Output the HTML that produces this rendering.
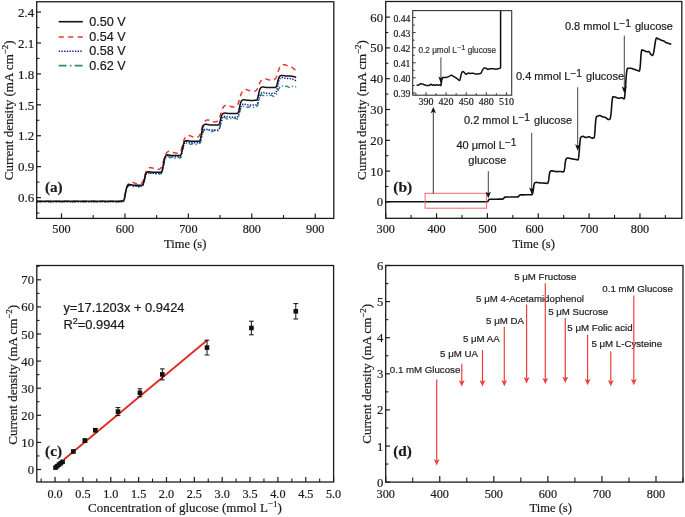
<!DOCTYPE html>
<html><head><meta charset="utf-8"><style>
html,body{margin:0;padding:0;background:#fff;}
body{width:685px;height:517px;overflow:hidden;}
svg{display:block;filter:blur(0.3px);}
</style></head><body>
<svg width="685" height="517" viewBox="0 0 685 517">
<rect x="0" y="0" width="685" height="517" fill="#ffffff"/>
<polyline points="36.76,201.8 37.08,201.8 37.4,201.8 37.71,201.8 38.03,201.8 38.35,201.8 38.67,201.8 38.98,201.8 39.3,201.8 39.62,201.8 39.93,201.8 40.25,201.8 40.57,201.8 40.89,201.8 41.2,201.8 41.52,201.8 41.84,201.8 42.15,201.8 42.47,201.8 42.79,201.8 43.11,201.8 43.42,201.8 43.74,201.8 44.06,201.8 44.37,201.8 44.69,201.8 45.01,201.8 45.33,201.8 45.64,201.8 45.96,201.8 46.28,201.8 46.59,201.8 46.91,201.8 47.23,201.8 47.55,201.8 47.86,201.8 48.18,201.8 48.5,201.8 48.81,201.8 49.13,201.8 49.45,201.8 49.77,201.8 50.08,201.8 50.4,201.8 50.72,201.8 51.03,201.8 51.35,201.8 51.67,201.8 51.99,201.8 52.3,201.8 52.62,201.8 52.94,201.8 53.25,201.8 53.57,201.8 53.89,201.8 54.21,201.8 54.52,201.8 54.84,201.8 55.16,201.8 55.47,201.8 55.79,201.8 56.11,201.8 56.43,201.8 56.74,201.8 57.06,201.8 57.38,201.8 57.69,201.8 58.01,201.8 58.33,201.8 58.65,201.8 58.96,201.8 59.28,201.8 59.6,201.8 59.91,201.8 60.23,201.8 60.55,201.8 60.87,201.8 61.18,201.8 61.5,201.8 61.82,201.8 62.13,201.8 62.45,201.8 62.77,201.8 63.09,201.8 63.4,201.8 63.72,201.8 64.04,201.8 64.35,201.8 64.67,201.8 64.99,201.8 65.31,201.8 65.62,201.8 65.94,201.8 66.26,201.8 66.57,201.8 66.89,201.8 67.21,201.8 67.53,201.8 67.84,201.8 68.16,201.8 68.48,201.8 68.79,201.8 69.11,201.8 69.43,201.8 69.75,201.8 70.06,201.8 70.38,201.8 70.7,201.8 71.01,201.8 71.33,201.8 71.65,201.8 71.97,201.8 72.28,201.8 72.6,201.8 72.92,201.8 73.23,201.8 73.55,201.8 73.87,201.8 74.19,201.8 74.5,201.8 74.82,201.8 75.14,201.8 75.45,201.8 75.77,201.8 76.09,201.8 76.41,201.8 76.72,201.8 77.04,201.8 77.36,201.8 77.67,201.8 77.99,201.8 78.31,201.8 78.63,201.8 78.94,201.8 79.26,201.8 79.58,201.8 79.89,201.8 80.21,201.8 80.53,201.8 80.85,201.8 81.16,201.8 81.48,201.8 81.8,201.8 82.11,201.8 82.43,201.8 82.75,201.8 83.07,201.8 83.38,201.8 83.7,201.8 84.02,201.8 84.33,201.8 84.65,201.8 84.97,201.8 85.29,201.8 85.6,201.8 85.92,201.8 86.24,201.8 86.55,201.8 86.87,201.8 87.19,201.8 87.51,201.8 87.82,201.8 88.14,201.8 88.46,201.8 88.77,201.8 89.09,201.8 89.41,201.8 89.73,201.8 90.04,201.8 90.36,201.8 90.68,201.8 90.99,201.8 91.31,201.8 91.63,201.8 91.95,201.8 92.26,201.8 92.58,201.8 92.9,201.8 93.22,201.8 93.53,201.8 93.85,201.8 94.17,201.8 94.48,201.8 94.8,201.8 95.12,201.8 95.44,201.8 95.75,201.8 96.07,201.8 96.39,201.8 96.7,201.8 97.02,201.8 97.34,201.8 97.66,201.8 97.97,201.8 98.29,201.8 98.61,201.8 98.92,201.8 99.24,201.8 99.56,201.8 99.88,201.8 100.19,201.8 100.51,201.8 100.83,201.8 101.14,201.8 101.46,201.8 101.78,201.8 102.1,201.8 102.41,201.8 102.73,201.8 103.05,201.8 103.36,201.8 103.68,201.8 104,201.8 104.32,201.8 104.63,201.8 104.95,201.8 105.27,201.8 105.58,201.8 105.9,201.8 106.22,201.8 106.54,201.8 106.85,201.8 107.17,201.8 107.49,201.8 107.8,201.8 108.12,201.8 108.44,201.8 108.76,201.8 109.07,201.8 109.39,201.8 109.71,201.8 110.02,201.8 110.34,201.8 110.66,201.8 110.98,201.8 111.29,201.8 111.61,201.8 111.93,201.8 112.24,201.8 112.56,201.8 112.88,201.8 113.2,201.8 113.51,201.8 113.83,201.8 114.15,201.8 114.46,201.8 114.78,201.8 115.1,201.8 115.42,201.8 115.73,201.8 116.05,201.8 116.37,201.8 116.68,201.8 117,201.8 117.32,201.8 117.64,201.8 117.95,201.8 118.27,201.8 118.59,201.8 118.9,201.79 119.22,201.79 119.54,201.79 119.86,201.78 120.17,201.77 120.49,201.76 120.81,201.75 121.12,201.73 121.44,201.7 121.76,201.68 122.08,201.67 122.39,201.66 122.71,201.65 123.03,201.59 123.34,201.42 123.66,201.05 123.98,200.39 124.3,199.43 124.61,198.16 124.93,196.65 125.25,194.67 125.56,192.83 125.88,191.16 126.2,189.73 126.52,188.6 126.83,187.76 127.15,187.19 127.47,186.81 127.78,186.56 128.1,186.38 128.42,186.23 128.74,186.07 129.05,185.89 129.37,185.67 129.69,185.45 130,185.24 130.32,185.07 130.64,184.96 130.96,184.93 131.27,185 131.59,185.16 131.91,185.39 132.22,185.69 132.54,186 132.86,186.31 133.18,186.57 133.49,186.75 133.81,186.85 134.13,186.84 134.44,186.75 134.76,186.58 135.08,186.38 135.4,186.17 135.71,185.98 136.03,185.85 136.35,185.79 136.66,185.82 136.98,185.94 137.3,186.12 137.62,186.34 137.93,186.56 138.25,186.77 138.57,186.91 138.88,186.98 139.2,186.96 139.52,186.85 139.84,186.67 140.15,186.44 140.47,186.19 140.79,185.96 141.1,185.79 141.42,185.7 141.74,185.69 142.06,185.73 142.37,185.74 142.69,185.64 143.01,185.33 143.32,184.75 143.64,183.87 143.96,182.73 144.28,181.39 144.59,179.95 144.91,178.49 145.23,177.1 145.54,175.87 145.86,174.83 146.18,174 146.5,173.39 146.81,172.98 147.13,172.75 147.45,172.68 147.76,172.73 148.08,172.86 148.4,173.03 148.72,173.21 149.03,173.35 149.35,173.43 149.67,173.44 149.98,173.39 150.3,173.28 150.62,173.14 150.94,173 151.25,172.88 151.57,172.82 151.89,172.83 152.2,172.91 152.52,173.07 152.84,173.29 153.16,173.54 153.47,173.8 153.79,174.02 154.11,174.19 154.42,174.27 154.74,174.27 155.06,174.17 155.38,174.01 155.69,173.79 156.01,173.57 156.33,173.36 156.64,173.19 156.96,173.11 157.28,173.1 157.6,173.18 157.91,173.33 158.23,173.54 158.55,173.75 158.87,173.95 159.18,174.1 159.5,174.18 159.82,174.17 160.13,174.09 160.45,173.93 160.77,173.72 161.09,173.43 161.4,173.04 161.72,172.47 162.04,171.68 162.35,170.65 162.67,169.4 162.99,167.98 163.31,166.48 163.62,164.98 163.94,163.56 164.26,162.27 164.57,161.14 164.89,160.16 165.21,159.31 165.53,158.56 165.84,157.89 166.16,157.31 166.48,156.83 166.79,156.45 167.11,156.19 167.43,156.07 167.75,156.07 168.06,156.2 168.38,156.43 168.7,156.72 169.01,157.03 169.33,157.34 169.65,157.59 169.97,157.77 170.28,157.86 170.6,157.86 170.92,157.77 171.23,157.63 171.55,157.46 171.87,157.3 172.19,157.18 172.5,157.13 172.82,157.15 173.14,157.25 173.45,157.42 173.77,157.64 174.09,157.88 174.41,158.1 174.72,158.27 175.04,158.37 175.36,158.39 175.67,158.32 175.99,158.17 176.31,157.97 176.63,157.74 176.94,157.51 177.26,157.32 177.58,157.2 177.89,157.15 178.21,157.19 178.53,157.3 178.85,157.48 179.16,157.69 179.48,157.91 179.8,158.09 180.11,158.17 180.43,158.06 180.75,157.68 181.07,156.98 181.38,155.92 181.7,154.56 182.02,152.99 182.33,151.32 182.65,149.68 182.97,148.19 183.29,146.94 183.6,145.96 183.92,145.24 184.24,144.76 184.55,144.44 184.87,144.23 185.19,144.07 185.51,143.92 185.82,143.75 186.14,143.56 186.46,143.33 186.77,143.1 187.09,142.89 187.41,142.72 187.73,142.62 188.04,142.61 188.36,142.69 188.68,142.86 188.99,143.11 189.31,143.41 189.63,143.72 189.95,144 190.26,144.24 190.58,144.4 190.9,144.46 191.21,144.42 191.53,144.31 191.85,144.13 192.17,143.91 192.48,143.7 192.8,143.53 193.12,143.42 193.43,143.39 193.75,143.45 194.07,143.59 194.39,143.78 194.7,144.01 195.02,144.23 195.34,144.42 195.65,144.54 195.97,144.58 196.29,144.54 196.61,144.41 196.92,144.21 197.24,143.97 197.56,143.72 197.87,143.5 198.19,143.35 198.51,143.28 198.83,143.3 199.14,143.36 199.46,143.4 199.78,143.3 200.09,142.98 200.41,142.38 200.73,141.47 201.05,140.28 201.36,138.89 201.68,137.4 202,135.9 202.31,134.49 202.63,133.24 202.95,132.19 203.27,131.37 203.58,130.77 203.9,130.38 204.22,130.18 204.53,130.12 204.85,130.18 205.17,130.32 205.49,130.48 205.8,130.64 206.12,130.75 206.44,130.81 206.75,130.8 207.07,130.73 207.39,130.61 207.71,130.46 208.02,130.33 208.34,130.23 208.66,130.19 208.97,130.22 209.29,130.33 209.61,130.52 209.93,130.75 210.24,131.01 210.56,131.26 210.88,131.47 211.19,131.62 211.51,131.68 211.83,131.64 212.15,131.53 212.46,131.35 212.78,131.13 213.1,130.9 213.41,130.7 213.73,130.56 214.05,130.5 214.37,130.52 214.68,130.63 215,130.8 215.32,131.01 215.63,131.23 215.95,131.42 216.27,131.56 216.59,131.62 216.9,131.59 217.22,131.48 217.54,131.31 217.85,131.09 218.17,130.81 218.49,130.46 218.81,130 219.12,129.39 219.44,128.61 219.76,127.68 220.07,126.63 220.39,125.53 220.71,124.42 221.03,123.37 221.34,122.4 221.66,121.53 221.98,120.76 222.3,120.06 222.61,119.43 222.93,118.86 223.25,118.36 223.56,117.94 223.88,117.61 224.2,117.41 224.52,117.32 224.83,117.36 225.15,117.51 225.47,117.74 225.78,118.02 226.1,118.31 226.42,118.58 226.74,118.79 227.05,118.92 227.37,118.96 227.69,118.91 228,118.79 228.32,118.62 228.64,118.44 228.96,118.28 229.27,118.17 229.59,118.14 229.91,118.18 230.22,118.3 230.54,118.49 230.86,118.71 231.18,118.95 231.49,119.16 231.81,119.31 232.13,119.39 232.44,119.38 232.76,119.29 233.08,119.12 233.4,118.9 233.71,118.67 234.03,118.45 234.35,118.29 234.66,118.18 234.98,118.17 235.3,118.23 235.62,118.37 235.93,118.56 236.25,118.78 236.57,118.99 236.88,119.16 237.2,119.22 237.52,119.11 237.84,118.75 238.15,118.11 238.47,117.17 238.79,115.97 239.1,114.59 239.42,113.15 239.74,111.75 240.06,110.5 240.37,109.46 240.69,108.66 241.01,108.09 241.32,107.71 241.64,107.47 241.96,107.3 242.28,107.17 242.59,107.03 242.91,106.85 243.23,106.65 243.54,106.41 243.86,106.18 244.18,105.96 244.5,105.8 244.81,105.71 245.13,105.71 245.45,105.81 245.76,105.99 246.08,106.25 246.4,106.54 246.72,106.84 247.03,107.11 247.35,107.31 247.67,107.44 247.98,107.47 248.3,107.4 248.62,107.26 248.94,107.07 249.25,106.85 249.57,106.65 249.89,106.49 250.2,106.4 250.52,106.4 250.84,106.48 251.16,106.64 251.47,106.85 251.79,107.08 252.11,107.29 252.42,107.46 252.74,107.57 253.06,107.58 253.38,107.51 253.69,107.36 254.01,107.15 254.33,106.91 254.64,106.67 254.96,106.47 255.28,106.34 255.6,106.3 255.91,106.34 256.23,106.43 256.55,106.5 256.86,106.45 257.18,106.2 257.5,105.69 257.82,104.9 258.13,103.86 258.45,102.62 258.77,101.29 259.08,99.95 259.4,98.69 259.72,97.57 260.04,96.65 260.35,95.94 260.67,95.43 260.99,95.11 261.3,94.97 261.62,94.96 261.94,95.05 262.26,95.2 262.57,95.36 262.89,95.5 263.21,95.59 263.52,95.62 263.84,95.57 264.16,95.47 264.48,95.33 264.79,95.17 265.11,95.03 265.43,94.94 265.74,94.91 266.06,94.96 266.38,95.1 266.7,95.29 267.01,95.54 267.33,95.79 267.65,96.03 267.96,96.23 268.28,96.34 268.6,96.38 268.92,96.32 269.23,96.18 269.55,95.98 269.87,95.76 270.18,95.54 270.5,95.35 270.82,95.23 271.14,95.2 271.45,95.25 271.77,95.38 272.09,95.56 272.4,95.78 272.72,96 273.04,96.19 273.36,96.3 273.67,96.34 273.99,96.29 274.31,96.17 274.62,95.98 274.94,95.75 275.26,95.49 275.58,95.19 275.89,94.83 276.21,94.38 276.53,93.84 276.84,93.2 277.16,92.5 277.48,91.75 277.8,91.01 278.11,90.28 278.43,89.6 278.75,88.97 279.06,88.38 279.38,87.83 279.7,87.31 280.02,86.83 280.33,86.4 280.65,86.04 280.97,85.77 281.28,85.61 281.6,85.56 281.92,85.63 282.24,85.8 282.55,86.03 282.87,86.3 283.19,86.57 283.5,86.8 283.82,86.96 284.14,87.05 284.46,87.04 284.77,86.95 285.09,86.8 285.41,86.61 285.73,86.42 286.04,86.27 286.36,86.17 286.68,86.15 286.99,86.22 287.31,86.36 287.63,86.56 287.95,86.79 288.26,87.02 288.58,87.21 288.9,87.34 289.21,87.4 289.53,87.36 289.85,87.25 290.17,87.06 290.48,86.84 290.8,86.61 291.12,86.41 291.43,86.27 291.75,86.2 292.07,86.22 292.39,86.33 292.7,86.5 293.02,86.72 293.34,86.95 293.65,87.16 293.97,87.31 294.29,87.39 294.61,87.39 294.92,87.29 295.24,87.13 295.56,86.92 295.87,86.69 296.19,86.48" fill="none" stroke="#2e8b6e" stroke-width="1.4" stroke-linejoin="round" stroke-dasharray="5,2.5,1.2,2.5" />
<polyline points="36.76,201.8 37.08,201.8 37.4,201.8 37.71,201.8 38.03,201.8 38.35,201.8 38.67,201.8 38.98,201.8 39.3,201.8 39.62,201.8 39.93,201.8 40.25,201.8 40.57,201.8 40.89,201.8 41.2,201.8 41.52,201.8 41.84,201.8 42.15,201.8 42.47,201.8 42.79,201.8 43.11,201.8 43.42,201.8 43.74,201.8 44.06,201.8 44.37,201.8 44.69,201.8 45.01,201.8 45.33,201.8 45.64,201.8 45.96,201.8 46.28,201.8 46.59,201.8 46.91,201.8 47.23,201.8 47.55,201.8 47.86,201.8 48.18,201.8 48.5,201.8 48.81,201.8 49.13,201.8 49.45,201.8 49.77,201.8 50.08,201.8 50.4,201.8 50.72,201.8 51.03,201.8 51.35,201.8 51.67,201.8 51.99,201.8 52.3,201.8 52.62,201.8 52.94,201.8 53.25,201.8 53.57,201.8 53.89,201.8 54.21,201.8 54.52,201.8 54.84,201.8 55.16,201.8 55.47,201.8 55.79,201.8 56.11,201.8 56.43,201.8 56.74,201.8 57.06,201.8 57.38,201.8 57.69,201.8 58.01,201.8 58.33,201.8 58.65,201.8 58.96,201.8 59.28,201.8 59.6,201.8 59.91,201.8 60.23,201.8 60.55,201.8 60.87,201.8 61.18,201.8 61.5,201.8 61.82,201.8 62.13,201.8 62.45,201.8 62.77,201.8 63.09,201.8 63.4,201.8 63.72,201.8 64.04,201.8 64.35,201.8 64.67,201.8 64.99,201.8 65.31,201.8 65.62,201.8 65.94,201.8 66.26,201.8 66.57,201.8 66.89,201.8 67.21,201.8 67.53,201.8 67.84,201.8 68.16,201.8 68.48,201.8 68.79,201.8 69.11,201.8 69.43,201.8 69.75,201.8 70.06,201.8 70.38,201.8 70.7,201.8 71.01,201.8 71.33,201.8 71.65,201.8 71.97,201.8 72.28,201.8 72.6,201.8 72.92,201.8 73.23,201.8 73.55,201.8 73.87,201.8 74.19,201.8 74.5,201.8 74.82,201.8 75.14,201.8 75.45,201.8 75.77,201.8 76.09,201.8 76.41,201.8 76.72,201.8 77.04,201.8 77.36,201.8 77.67,201.8 77.99,201.8 78.31,201.8 78.63,201.8 78.94,201.8 79.26,201.8 79.58,201.8 79.89,201.8 80.21,201.8 80.53,201.8 80.85,201.8 81.16,201.8 81.48,201.8 81.8,201.8 82.11,201.8 82.43,201.8 82.75,201.8 83.07,201.8 83.38,201.8 83.7,201.8 84.02,201.8 84.33,201.8 84.65,201.8 84.97,201.8 85.29,201.8 85.6,201.8 85.92,201.8 86.24,201.8 86.55,201.8 86.87,201.8 87.19,201.8 87.51,201.8 87.82,201.8 88.14,201.8 88.46,201.8 88.77,201.8 89.09,201.8 89.41,201.8 89.73,201.8 90.04,201.8 90.36,201.8 90.68,201.8 90.99,201.8 91.31,201.8 91.63,201.8 91.95,201.8 92.26,201.8 92.58,201.8 92.9,201.8 93.22,201.8 93.53,201.8 93.85,201.8 94.17,201.8 94.48,201.8 94.8,201.8 95.12,201.8 95.44,201.8 95.75,201.8 96.07,201.8 96.39,201.8 96.7,201.8 97.02,201.8 97.34,201.8 97.66,201.8 97.97,201.8 98.29,201.8 98.61,201.8 98.92,201.8 99.24,201.8 99.56,201.8 99.88,201.8 100.19,201.8 100.51,201.8 100.83,201.8 101.14,201.8 101.46,201.8 101.78,201.8 102.1,201.8 102.41,201.8 102.73,201.8 103.05,201.8 103.36,201.8 103.68,201.8 104,201.8 104.32,201.8 104.63,201.8 104.95,201.8 105.27,201.8 105.58,201.8 105.9,201.8 106.22,201.8 106.54,201.8 106.85,201.8 107.17,201.8 107.49,201.8 107.8,201.8 108.12,201.8 108.44,201.8 108.76,201.8 109.07,201.8 109.39,201.8 109.71,201.8 110.02,201.8 110.34,201.8 110.66,201.8 110.98,201.8 111.29,201.8 111.61,201.8 111.93,201.8 112.24,201.8 112.56,201.8 112.88,201.8 113.2,201.8 113.51,201.8 113.83,201.8 114.15,201.8 114.46,201.8 114.78,201.8 115.1,201.8 115.42,201.8 115.73,201.8 116.05,201.8 116.37,201.8 116.68,201.8 117,201.8 117.32,201.8 117.64,201.8 117.95,201.8 118.27,201.8 118.59,201.8 118.9,201.79 119.22,201.79 119.54,201.79 119.86,201.78 120.17,201.77 120.49,201.76 120.81,201.75 121.12,201.72 121.44,201.7 121.76,201.68 122.08,201.66 122.39,201.66 122.71,201.65 123.03,201.59 123.34,201.42 123.66,201.04 123.98,200.38 124.3,199.39 124.61,198.11 124.93,196.59 125.25,194.92 125.56,193.23 125.88,191.62 126.2,190.17 126.52,188.94 126.83,187.93 127.15,187.13 127.47,186.51 127.78,186.05 128.1,185.7 128.42,185.44 128.74,185.26 129.05,185.15 129.37,185.09 129.69,185.07 130,185.08 130.32,185.13 130.64,185.2 130.96,185.29 131.27,185.38 131.59,185.49 131.91,185.59 132.22,185.69 132.54,185.78 132.86,185.86 133.18,185.93 133.49,185.99 133.81,186.04 134.13,186.08 134.44,186.12 134.76,186.14 135.08,186.16 135.4,186.17 135.71,186.18 136.03,186.19 136.35,186.19 136.66,186.19 136.98,186.2 137.3,186.2 137.62,186.2 137.93,186.19 138.25,186.19 138.57,186.19 138.88,186.19 139.2,186.18 139.52,186.17 139.84,186.16 140.15,186.14 140.47,186.12 140.79,186.1 141.1,186.09 141.42,186.08 141.74,186.08 142.06,186.03 142.37,185.89 142.69,185.57 143.01,185.03 143.32,184.23 143.64,183.17 143.96,181.92 144.28,180.55 144.59,179.17 144.91,177.84 145.23,176.66 145.54,175.65 145.86,174.82 146.18,174.16 146.5,173.66 146.81,173.27 147.13,172.99 147.45,172.78 147.76,172.63 148.08,172.54 148.4,172.49 148.72,172.47 149.03,172.48 149.35,172.52 149.67,172.58 149.98,172.65 150.3,172.73 150.62,172.82 150.94,172.9 151.25,172.98 151.57,173.06 151.89,173.12 152.2,173.18 152.52,173.23 152.84,173.27 153.16,173.3 153.47,173.33 153.79,173.35 154.11,173.37 154.42,173.38 154.74,173.38 155.06,173.39 155.38,173.39 155.69,173.39 156.01,173.4 156.33,173.4 156.64,173.39 156.96,173.39 157.28,173.39 157.6,173.39 157.91,173.38 158.23,173.37 158.55,173.36 158.87,173.34 159.18,173.32 159.5,173.29 159.82,173.27 160.13,173.26 160.45,173.25 160.77,173.24 161.09,173.18 161.4,172.99 161.72,172.59 162.04,171.88 162.35,170.84 162.67,169.47 162.99,167.85 163.31,166.08 163.62,164.28 163.94,162.56 164.26,161.02 164.57,159.71 164.89,158.64 165.21,157.79 165.53,157.13 165.84,156.64 166.16,156.26 166.48,155.99 166.79,155.8 167.11,155.68 167.43,155.61 167.75,155.59 168.06,155.61 168.38,155.66 168.7,155.74 169.01,155.83 169.33,155.93 169.65,156.04 169.97,156.15 170.28,156.26 170.6,156.35 170.92,156.44 171.23,156.52 171.55,156.58 171.87,156.63 172.19,156.68 172.5,156.71 172.82,156.74 173.14,156.76 173.45,156.77 173.77,156.78 174.09,156.79 174.41,156.79 174.72,156.79 175.04,156.79 175.36,156.8 175.67,156.8 175.99,156.79 176.31,156.79 176.63,156.79 176.94,156.78 177.26,156.78 177.58,156.77 177.89,156.75 178.21,156.73 178.53,156.71 178.85,156.69 179.16,156.68 179.48,156.67 179.8,156.66 180.11,156.61 180.43,156.46 180.75,156.12 181.07,155.52 181.38,154.64 181.7,153.49 182.02,152.12 182.33,150.63 182.65,149.11 182.97,147.66 183.29,146.36 183.6,145.26 183.92,144.35 184.24,143.64 184.55,143.08 184.87,142.66 185.19,142.35 185.51,142.12 185.82,141.96 186.14,141.86 186.46,141.8 186.77,141.78 187.09,141.8 187.41,141.84 187.73,141.9 188.04,141.98 188.36,142.07 188.68,142.16 188.99,142.25 189.31,142.34 189.63,142.42 189.95,142.5 190.26,142.56 190.58,142.61 190.9,142.66 191.21,142.7 191.53,142.72 191.85,142.75 192.17,142.76 192.48,142.77 192.8,142.78 193.12,142.79 193.43,142.79 193.75,142.79 194.07,142.8 194.39,142.8 194.7,142.8 195.02,142.79 195.34,142.79 195.65,142.79 195.97,142.79 196.29,142.78 196.61,142.77 196.92,142.76 197.24,142.74 197.56,142.72 197.87,142.7 198.19,142.69 198.51,142.68 198.83,142.68 199.14,142.63 199.46,142.49 199.78,142.18 200.09,141.64 200.41,140.84 200.73,139.8 201.05,138.55 201.36,137.2 201.68,135.82 202,134.51 202.31,133.33 202.63,132.33 202.95,131.51 203.27,130.86 203.58,130.36 203.9,129.97 204.22,129.69 204.53,129.48 204.85,129.34 205.17,129.24 205.49,129.19 205.8,129.18 206.12,129.19 206.44,129.23 206.75,129.29 207.07,129.36 207.39,129.44 207.71,129.52 208.02,129.6 208.34,129.68 208.66,129.76 208.97,129.82 209.29,129.88 209.61,129.93 209.93,129.97 210.24,130.01 210.56,130.03 210.88,130.05 211.19,130.07 211.51,130.08 211.83,130.08 212.15,130.09 212.46,130.09 212.78,130.09 213.1,130.1 213.41,130.1 213.73,130.1 214.05,130.09 214.37,130.09 214.68,130.09 215,130.08 215.32,130.08 215.63,130.07 215.95,130.05 216.27,130.04 216.59,130.02 216.9,130 217.22,129.99 217.54,129.98 217.85,129.97 218.17,129.93 218.49,129.78 218.81,129.47 219.12,128.92 219.44,128.11 219.76,127.05 220.07,125.79 220.39,124.41 220.71,123.01 221.03,121.68 221.34,120.48 221.66,119.46 221.98,118.63 222.3,117.97 222.61,117.46 222.93,117.07 223.25,116.78 223.56,116.57 223.88,116.43 224.2,116.33 224.52,116.28 224.83,116.26 225.15,116.28 225.47,116.32 225.78,116.37 226.1,116.45 226.42,116.53 226.74,116.61 227.05,116.7 227.37,116.78 227.69,116.85 228,116.92 228.32,116.98 228.64,117.03 228.96,117.07 229.27,117.1 229.59,117.13 229.91,117.15 230.22,117.17 230.54,117.18 230.86,117.18 231.18,117.19 231.49,117.19 231.81,117.19 232.13,117.2 232.44,117.2 232.76,117.2 233.08,117.19 233.4,117.19 233.71,117.19 234.03,117.19 234.35,117.18 234.66,117.17 234.98,117.16 235.3,117.14 235.62,117.12 235.93,117.11 236.25,117.09 236.57,117.09 236.88,117.08 237.2,117.04 237.52,116.9 237.84,116.6 238.15,116.09 238.47,115.32 238.79,114.31 239.1,113.12 239.42,111.82 239.74,110.5 240.06,109.24 240.37,108.1 240.69,107.14 241.01,106.35 241.32,105.73 241.64,105.25 241.96,104.88 242.28,104.61 242.59,104.41 242.91,104.27 243.23,104.18 243.54,104.13 243.86,104.11 244.18,104.13 244.5,104.16 244.81,104.22 245.13,104.29 245.45,104.36 245.76,104.44 246.08,104.52 246.4,104.6 246.72,104.67 247.03,104.74 247.35,104.79 247.67,104.84 247.98,104.88 248.3,104.91 248.62,104.93 248.94,104.95 249.25,104.97 249.57,104.98 249.89,104.98 250.2,104.99 250.52,104.99 250.84,105 251.16,105 251.47,105 251.79,105 252.11,105 252.42,104.99 252.74,104.99 253.06,104.99 253.38,104.98 253.69,104.97 254.01,104.96 254.33,104.94 254.64,104.93 254.96,104.91 255.28,104.9 255.6,104.89 255.91,104.89 256.23,104.84 256.55,104.71 256.86,104.43 257.18,103.94 257.5,103.21 257.82,102.26 258.13,101.12 258.45,99.88 258.77,98.63 259.08,97.43 259.4,96.35 259.72,95.43 260.04,94.69 260.35,94.09 260.67,93.63 260.99,93.29 261.3,93.03 261.62,92.84 261.94,92.7 262.26,92.62 262.57,92.57 262.89,92.56 263.21,92.57 263.52,92.6 263.84,92.66 264.16,92.72 264.48,92.79 264.79,92.87 265.11,92.95 265.43,93.02 265.74,93.09 266.06,93.15 266.38,93.2 266.7,93.25 267.01,93.28 267.33,93.31 267.65,93.34 267.96,93.36 268.28,93.37 268.6,93.38 268.92,93.39 269.23,93.39 269.55,93.39 269.87,93.39 270.18,93.4 270.5,93.4 270.82,93.4 271.14,93.39 271.45,93.39 271.77,93.39 272.09,93.38 272.4,93.37 272.72,93.36 273.04,93.35 273.36,93.33 273.67,93.31 273.99,93.28 274.31,93.27 274.62,93.27 274.94,93.26 275.26,93.2 275.58,93.04 275.89,92.68 276.21,92.05 276.53,91.12 276.84,89.9 277.16,88.45 277.48,86.87 277.8,85.27 278.11,83.74 278.43,82.37 278.75,81.2 279.06,80.24 279.38,79.48 279.7,78.9 280.02,78.45 280.33,78.12 280.65,77.88 280.97,77.71 281.28,77.6 281.6,77.54 281.92,77.52 282.24,77.54 282.55,77.58 282.87,77.65 283.19,77.73 283.5,77.83 283.82,77.92 284.14,78.02 284.46,78.11 284.77,78.2 285.09,78.28 285.41,78.35 285.73,78.4 286.04,78.45 286.36,78.49 286.68,78.52 286.99,78.54 287.31,78.56 287.63,78.57 287.95,78.58 288.26,78.59 288.58,78.59 288.9,78.6 289.21,78.6 289.53,78.6 289.85,78.6 290.17,78.62 290.48,78.67 290.8,78.73 291.12,78.8 291.43,78.87 291.75,78.96 292.07,79.06 292.39,79.16 292.7,79.26 293.02,79.38 293.34,79.5 293.65,79.62 293.97,79.75 294.29,79.89 294.61,80.03 294.92,80.17 295.24,80.32 295.56,80.48 295.87,80.64 296.19,80.8" fill="none" stroke="#1f1fa6" stroke-width="1.5" stroke-linejoin="round" stroke-dasharray="1.4,1.3" />
<polyline points="36.76,201.3 37.08,201.3 37.4,201.3 37.71,201.3 38.03,201.3 38.35,201.3 38.67,201.3 38.98,201.3 39.3,201.3 39.62,201.3 39.93,201.3 40.25,201.3 40.57,201.3 40.89,201.3 41.2,201.3 41.52,201.3 41.84,201.3 42.15,201.3 42.47,201.3 42.79,201.3 43.11,201.3 43.42,201.3 43.74,201.3 44.06,201.3 44.37,201.3 44.69,201.3 45.01,201.3 45.33,201.3 45.64,201.3 45.96,201.3 46.28,201.3 46.59,201.3 46.91,201.3 47.23,201.3 47.55,201.3 47.86,201.3 48.18,201.3 48.5,201.3 48.81,201.3 49.13,201.3 49.45,201.3 49.77,201.3 50.08,201.3 50.4,201.3 50.72,201.3 51.03,201.3 51.35,201.3 51.67,201.3 51.99,201.3 52.3,201.3 52.62,201.3 52.94,201.3 53.25,201.3 53.57,201.3 53.89,201.3 54.21,201.3 54.52,201.3 54.84,201.3 55.16,201.3 55.47,201.3 55.79,201.3 56.11,201.3 56.43,201.3 56.74,201.3 57.06,201.3 57.38,201.3 57.69,201.3 58.01,201.3 58.33,201.3 58.65,201.3 58.96,201.3 59.28,201.3 59.6,201.3 59.91,201.3 60.23,201.3 60.55,201.3 60.87,201.3 61.18,201.3 61.5,201.3 61.82,201.3 62.13,201.3 62.45,201.3 62.77,201.3 63.09,201.3 63.4,201.3 63.72,201.3 64.04,201.3 64.35,201.3 64.67,201.3 64.99,201.3 65.31,201.3 65.62,201.3 65.94,201.3 66.26,201.3 66.57,201.3 66.89,201.3 67.21,201.3 67.53,201.3 67.84,201.3 68.16,201.3 68.48,201.3 68.79,201.3 69.11,201.3 69.43,201.3 69.75,201.3 70.06,201.3 70.38,201.3 70.7,201.3 71.01,201.3 71.33,201.3 71.65,201.3 71.97,201.3 72.28,201.3 72.6,201.3 72.92,201.3 73.23,201.3 73.55,201.3 73.87,201.3 74.19,201.3 74.5,201.3 74.82,201.3 75.14,201.3 75.45,201.3 75.77,201.3 76.09,201.3 76.41,201.3 76.72,201.3 77.04,201.3 77.36,201.3 77.67,201.3 77.99,201.3 78.31,201.3 78.63,201.3 78.94,201.3 79.26,201.3 79.58,201.3 79.89,201.3 80.21,201.3 80.53,201.3 80.85,201.3 81.16,201.3 81.48,201.3 81.8,201.3 82.11,201.3 82.43,201.3 82.75,201.3 83.07,201.3 83.38,201.3 83.7,201.3 84.02,201.3 84.33,201.3 84.65,201.3 84.97,201.3 85.29,201.3 85.6,201.3 85.92,201.3 86.24,201.3 86.55,201.3 86.87,201.3 87.19,201.3 87.51,201.3 87.82,201.3 88.14,201.3 88.46,201.3 88.77,201.3 89.09,201.3 89.41,201.3 89.73,201.3 90.04,201.3 90.36,201.3 90.68,201.3 90.99,201.3 91.31,201.3 91.63,201.3 91.95,201.3 92.26,201.3 92.58,201.3 92.9,201.3 93.22,201.3 93.53,201.3 93.85,201.3 94.17,201.3 94.48,201.3 94.8,201.3 95.12,201.3 95.44,201.3 95.75,201.3 96.07,201.3 96.39,201.3 96.7,201.3 97.02,201.3 97.34,201.3 97.66,201.3 97.97,201.3 98.29,201.3 98.61,201.3 98.92,201.3 99.24,201.3 99.56,201.3 99.88,201.3 100.19,201.3 100.51,201.3 100.83,201.3 101.14,201.3 101.46,201.3 101.78,201.3 102.1,201.3 102.41,201.3 102.73,201.3 103.05,201.3 103.36,201.3 103.68,201.3 104,201.3 104.32,201.3 104.63,201.3 104.95,201.3 105.27,201.3 105.58,201.3 105.9,201.3 106.22,201.3 106.54,201.3 106.85,201.3 107.17,201.3 107.49,201.3 107.8,201.3 108.12,201.3 108.44,201.3 108.76,201.3 109.07,201.3 109.39,201.3 109.71,201.3 110.02,201.3 110.34,201.3 110.66,201.3 110.98,201.3 111.29,201.3 111.61,201.3 111.93,201.3 112.24,201.3 112.56,201.3 112.88,201.3 113.2,201.3 113.51,201.3 113.83,201.3 114.15,201.3 114.46,201.3 114.78,201.3 115.1,201.3 115.42,201.3 115.73,201.3 116.05,201.3 116.37,201.29 116.68,201.29 117,201.29 117.32,201.29 117.64,201.28 117.95,201.28 118.27,201.27 118.59,201.26 118.9,201.24 119.22,201.23 119.54,201.2 119.86,201.17 120.17,201.13 120.49,201.07 120.81,201 121.12,200.91 121.44,200.78 121.76,200.63 122.08,200.42 122.39,200.15 122.71,199.82 123.03,199.39 123.34,198.86 123.66,198.22 123.98,197.44 124.3,196.54 124.61,195.5 124.93,194.36 125.25,193.15 125.56,191.89 125.88,190.65 126.2,189.45 126.52,188.33 126.83,187.32 127.15,186.43 127.47,185.65 127.78,184.98 128.1,184.42 128.42,183.93 128.74,183.53 129.05,183.19 129.37,182.91 129.69,182.68 130,182.49 130.32,182.35 130.64,182.24 130.96,182.17 131.27,182.14 131.59,182.13 131.91,182.16 132.22,182.21 132.54,182.29 132.86,182.39 133.18,182.5 133.49,182.62 133.81,182.76 134.13,182.9 134.44,183.04 134.76,183.18 135.08,183.32 135.4,183.45 135.71,183.57 136.03,183.69 136.35,183.79 136.66,183.88 136.98,183.96 137.3,184.03 137.62,184.08 137.93,184.12 138.25,184.15 138.57,184.17 138.88,184.17 139.2,184.16 139.52,184.13 139.84,184.09 140.15,184.02 140.47,183.92 140.79,183.79 141.1,183.61 141.42,183.38 141.74,183.09 142.06,182.72 142.37,182.26 142.69,181.7 143.01,181.02 143.32,180.23 143.64,179.32 143.96,178.33 144.28,177.26 144.59,176.16 144.91,175.07 145.23,174.02 145.54,173.05 145.86,172.16 146.18,171.38 146.5,170.7 146.81,170.11 147.13,169.61 147.45,169.19 147.76,168.84 148.08,168.54 148.4,168.29 148.72,168.09 149.03,167.93 149.35,167.8 149.67,167.71 149.98,167.65 150.3,167.62 150.62,167.62 150.94,167.64 151.25,167.68 151.57,167.75 151.89,167.84 152.2,167.93 152.52,168.04 152.84,168.16 153.16,168.29 153.47,168.41 153.79,168.53 154.11,168.65 154.42,168.77 154.74,168.87 155.06,168.97 155.38,169.06 155.69,169.14 156.01,169.21 156.33,169.27 156.64,169.31 156.96,169.35 157.28,169.37 157.6,169.38 157.91,169.38 158.23,169.36 158.55,169.32 158.87,169.27 159.18,169.19 159.5,169.08 159.82,168.93 160.13,168.74 160.45,168.49 160.77,168.17 161.09,167.77 161.4,167.26 161.72,166.64 162.04,165.9 162.35,165.03 162.67,164.04 162.99,162.95 163.31,161.78 163.62,160.58 163.94,159.39 164.26,158.24 164.57,157.17 164.89,156.2 165.21,155.35 165.53,154.6 165.84,153.96 166.16,153.41 166.48,152.95 166.79,152.56 167.11,152.24 167.43,151.97 167.75,151.75 168.06,151.57 168.38,151.43 168.7,151.33 169.01,151.26 169.33,151.23 169.65,151.23 169.97,151.25 170.28,151.3 170.6,151.38 170.92,151.47 171.23,151.58 171.55,151.7 171.87,151.83 172.19,151.96 172.5,152.1 172.82,152.23 173.14,152.36 173.45,152.49 173.77,152.61 174.09,152.72 174.41,152.81 174.72,152.9 175.04,152.97 175.36,153.04 175.67,153.09 175.99,153.13 176.31,153.16 176.63,153.17 176.94,153.17 177.26,153.16 177.58,153.12 177.89,153.07 178.21,153 178.53,152.89 178.85,152.75 179.16,152.56 179.48,152.32 179.8,152 180.11,151.61 180.43,151.12 180.75,150.51 181.07,149.79 181.38,148.94 181.7,147.98 182.02,146.92 182.33,145.78 182.65,144.61 182.97,143.44 183.29,142.32 183.6,141.28 183.92,140.33 184.24,139.5 184.55,138.77 184.87,138.15 185.19,137.61 185.51,137.16 185.82,136.79 186.14,136.47 186.46,136.2 186.77,135.99 187.09,135.81 187.41,135.68 187.73,135.58 188.04,135.52 188.36,135.48 188.68,135.48 188.99,135.51 189.31,135.56 189.63,135.63 189.95,135.72 190.26,135.82 190.58,135.94 190.9,136.07 191.21,136.2 191.53,136.33 191.85,136.46 192.17,136.59 192.48,136.71 192.8,136.83 193.12,136.93 193.43,137.03 193.75,137.11 194.07,137.19 194.39,137.25 194.7,137.3 195.02,137.33 195.34,137.36 195.65,137.37 195.97,137.37 196.29,137.36 196.61,137.33 196.92,137.28 197.24,137.2 197.56,137.1 197.87,136.96 198.19,136.78 198.51,136.54 198.83,136.23 199.14,135.84 199.46,135.36 199.78,134.77 200.09,134.06 200.41,133.23 200.73,132.28 201.05,131.24 201.36,130.12 201.68,128.97 202,127.83 202.31,126.73 202.63,125.71 202.95,124.78 203.27,123.96 203.58,123.25 203.9,122.64 204.22,122.11 204.53,121.67 204.85,121.3 205.17,120.99 205.49,120.73 205.8,120.52 206.12,120.35 206.44,120.22 206.75,120.12 207.07,120.06 207.39,120.02 207.71,120.02 208.02,120.05 208.34,120.09 208.66,120.16 208.97,120.25 209.29,120.36 209.61,120.47 209.93,120.59 210.24,120.72 210.56,120.85 210.88,120.98 211.19,121.11 211.51,121.23 211.83,121.34 212.15,121.45 212.46,121.54 212.78,121.62 213.1,121.69 213.41,121.75 213.73,121.8 214.05,121.84 214.37,121.87 214.68,121.88 215,121.88 215.32,121.87 215.63,121.84 215.95,121.79 216.27,121.72 216.59,121.62 216.9,121.49 217.22,121.31 217.54,121.08 217.85,120.78 218.17,120.41 218.49,119.95 218.81,119.38 219.12,118.7 219.44,117.9 219.76,116.99 220.07,115.98 220.39,114.91 220.71,113.81 221.03,112.71 221.34,111.65 221.66,110.67 221.98,109.78 222.3,108.99 222.61,108.3 222.93,107.72 223.25,107.21 223.56,106.79 223.88,106.43 224.2,106.13 224.52,105.88 224.83,105.68 225.15,105.52 225.47,105.39 225.78,105.3 226.1,105.24 226.42,105.2 226.74,105.2 227.05,105.23 227.37,105.27 227.69,105.34 228,105.42 228.32,105.52 228.64,105.63 228.96,105.75 229.27,105.88 229.59,106 229.91,106.13 230.22,106.25 230.54,106.36 230.86,106.47 231.18,106.57 231.49,106.66 231.81,106.74 232.13,106.81 232.44,106.86 232.76,106.91 233.08,106.95 233.4,106.97 233.71,106.98 234.03,106.98 234.35,106.96 234.66,106.93 234.98,106.88 235.3,106.8 235.62,106.7 235.93,106.56 236.25,106.37 236.57,106.13 236.88,105.82 237.2,105.43 237.52,104.95 237.84,104.35 238.15,103.64 238.47,102.8 238.79,101.85 239.1,100.8 239.42,99.67 239.74,98.52 240.06,97.37 240.37,96.26 240.69,95.23 241.01,94.3 241.32,93.47 241.64,92.76 241.96,92.14 242.28,91.61 242.59,91.17 242.91,90.8 243.23,90.48 243.54,90.22 243.86,90.01 244.18,89.84 244.5,89.7 244.81,89.61 245.13,89.54 245.45,89.51 245.76,89.51 246.08,89.53 246.4,89.58 246.72,89.65 247.03,89.74 247.35,89.85 247.67,89.96 247.98,90.09 248.3,90.21 248.62,90.35 248.94,90.48 249.25,90.6 249.57,90.72 249.89,90.84 250.2,90.94 250.52,91.04 250.84,91.12 251.16,91.2 251.47,91.26 251.79,91.31 252.11,91.35 252.42,91.38 252.74,91.4 253.06,91.41 253.38,91.41 253.69,91.39 254.01,91.35 254.33,91.3 254.64,91.23 254.96,91.13 255.28,91 255.6,90.83 255.91,90.61 256.23,90.33 256.55,89.98 256.86,89.55 257.18,89.04 257.5,88.44 257.82,87.76 258.13,87 258.45,86.2 258.77,85.37 259.08,84.54 259.4,83.75 259.72,83.01 260.04,82.34 260.35,81.75 260.67,81.23 260.99,80.79 261.3,80.41 261.62,80.09 261.94,79.82 262.26,79.6 262.57,79.41 262.89,79.26 263.21,79.13 263.52,79.04 263.84,78.97 264.16,78.92 264.48,78.9 264.79,78.9 265.11,78.92 265.43,78.95 265.74,79 266.06,79.07 266.38,79.14 266.7,79.22 267.01,79.31 267.33,79.4 267.65,79.5 267.96,79.59 268.28,79.68 268.6,79.77 268.92,79.85 269.23,79.92 269.55,79.99 269.87,80.05 270.18,80.1 270.5,80.14 270.82,80.18 271.14,80.2 271.45,80.22 271.77,80.22 272.09,80.22 272.4,80.2 272.72,80.17 273.04,80.12 273.36,80.05 273.67,79.96 273.99,79.83 274.31,79.66 274.62,79.45 274.94,79.17 275.26,78.83 275.58,78.39 275.89,77.86 276.21,77.23 276.53,76.48 276.84,75.63 277.16,74.7 277.48,73.69 277.8,72.66 278.11,71.64 278.43,70.65 278.75,69.74 279.06,68.91 279.38,68.17 279.7,67.53 280.02,66.98 280.33,66.51 280.65,66.12 280.97,65.78 281.28,65.5 281.6,65.27 281.92,65.08 282.24,64.93 282.55,64.81 282.87,64.72 283.19,64.67 283.5,64.64 283.82,64.64 284.14,64.66 284.46,64.7 284.77,64.76 285.09,64.84 285.41,64.94 285.73,65.04 286.04,65.15 286.36,65.27 286.68,65.38 286.99,65.5 287.31,65.61 287.63,65.72 287.95,65.83 288.26,65.92 288.58,66.01 288.9,66.09 289.21,66.15 289.53,66.22 289.85,66.27 290.17,66.36 290.48,66.49 290.8,66.64 291.12,66.81 291.43,66.99 291.75,67.18 292.07,67.39 292.39,67.61 292.7,67.83 293.02,68.07 293.34,68.32 293.65,68.58 293.97,68.85 294.29,69.13 294.61,69.42 294.92,69.72 295.24,70.02 295.56,70.34 295.87,70.67 296.19,71" fill="none" stroke="#e8392f" stroke-width="1.5" stroke-linejoin="round" stroke-dasharray="5,4" />
<polyline points="36.76,201.2 37.08,201.2 37.4,201.2 37.71,201.2 38.03,201.2 38.35,201.2 38.67,201.2 38.98,201.2 39.3,201.2 39.62,201.2 39.93,201.2 40.25,201.2 40.57,201.2 40.89,201.2 41.2,201.2 41.52,201.2 41.84,201.2 42.15,201.2 42.47,201.2 42.79,201.2 43.11,201.2 43.42,201.2 43.74,201.2 44.06,201.2 44.37,201.2 44.69,201.2 45.01,201.2 45.33,201.2 45.64,201.2 45.96,201.2 46.28,201.2 46.59,201.2 46.91,201.2 47.23,201.2 47.55,201.2 47.86,201.2 48.18,201.2 48.5,201.2 48.81,201.2 49.13,201.2 49.45,201.2 49.77,201.2 50.08,201.2 50.4,201.2 50.72,201.2 51.03,201.2 51.35,201.2 51.67,201.2 51.99,201.2 52.3,201.2 52.62,201.2 52.94,201.2 53.25,201.2 53.57,201.2 53.89,201.2 54.21,201.2 54.52,201.2 54.84,201.2 55.16,201.2 55.47,201.2 55.79,201.2 56.11,201.2 56.43,201.2 56.74,201.2 57.06,201.2 57.38,201.2 57.69,201.2 58.01,201.2 58.33,201.2 58.65,201.2 58.96,201.2 59.28,201.2 59.6,201.2 59.91,201.2 60.23,201.2 60.55,201.2 60.87,201.2 61.18,201.2 61.5,201.2 61.82,201.2 62.13,201.2 62.45,201.2 62.77,201.2 63.09,201.2 63.4,201.2 63.72,201.2 64.04,201.2 64.35,201.2 64.67,201.2 64.99,201.2 65.31,201.2 65.62,201.2 65.94,201.2 66.26,201.2 66.57,201.2 66.89,201.2 67.21,201.2 67.53,201.2 67.84,201.2 68.16,201.2 68.48,201.2 68.79,201.2 69.11,201.2 69.43,201.2 69.75,201.2 70.06,201.2 70.38,201.2 70.7,201.2 71.01,201.2 71.33,201.2 71.65,201.2 71.97,201.2 72.28,201.2 72.6,201.2 72.92,201.2 73.23,201.2 73.55,201.2 73.87,201.2 74.19,201.2 74.5,201.2 74.82,201.2 75.14,201.2 75.45,201.2 75.77,201.2 76.09,201.2 76.41,201.2 76.72,201.2 77.04,201.2 77.36,201.2 77.67,201.2 77.99,201.2 78.31,201.2 78.63,201.2 78.94,201.2 79.26,201.2 79.58,201.2 79.89,201.2 80.21,201.2 80.53,201.2 80.85,201.2 81.16,201.2 81.48,201.2 81.8,201.2 82.11,201.2 82.43,201.2 82.75,201.2 83.07,201.2 83.38,201.2 83.7,201.2 84.02,201.2 84.33,201.2 84.65,201.2 84.97,201.2 85.29,201.2 85.6,201.2 85.92,201.2 86.24,201.2 86.55,201.2 86.87,201.2 87.19,201.2 87.51,201.2 87.82,201.2 88.14,201.2 88.46,201.2 88.77,201.2 89.09,201.2 89.41,201.2 89.73,201.2 90.04,201.2 90.36,201.2 90.68,201.2 90.99,201.2 91.31,201.2 91.63,201.2 91.95,201.2 92.26,201.2 92.58,201.2 92.9,201.2 93.22,201.2 93.53,201.2 93.85,201.2 94.17,201.2 94.48,201.2 94.8,201.2 95.12,201.2 95.44,201.2 95.75,201.2 96.07,201.2 96.39,201.2 96.7,201.2 97.02,201.2 97.34,201.2 97.66,201.2 97.97,201.2 98.29,201.2 98.61,201.2 98.92,201.2 99.24,201.2 99.56,201.2 99.88,201.2 100.19,201.2 100.51,201.2 100.83,201.2 101.14,201.2 101.46,201.2 101.78,201.2 102.1,201.2 102.41,201.2 102.73,201.2 103.05,201.2 103.36,201.2 103.68,201.2 104,201.2 104.32,201.2 104.63,201.2 104.95,201.2 105.27,201.2 105.58,201.2 105.9,201.2 106.22,201.2 106.54,201.2 106.85,201.2 107.17,201.2 107.49,201.2 107.8,201.2 108.12,201.2 108.44,201.2 108.76,201.2 109.07,201.2 109.39,201.2 109.71,201.2 110.02,201.2 110.34,201.2 110.66,201.2 110.98,201.2 111.29,201.2 111.61,201.2 111.93,201.2 112.24,201.2 112.56,201.2 112.88,201.2 113.2,201.2 113.51,201.2 113.83,201.2 114.15,201.2 114.46,201.2 114.78,201.2 115.1,201.2 115.42,201.2 115.73,201.2 116.05,201.2 116.37,201.2 116.68,201.2 117,201.2 117.32,201.2 117.64,201.2 117.95,201.2 118.27,201.2 118.59,201.2 118.9,201.2 119.22,201.2 119.54,201.19 119.86,201.19 120.17,201.18 120.49,201.18 120.81,201.17 121.12,201.15 121.44,201.14 121.76,201.12 122.08,201.12 122.39,201.12 122.71,201.11 123.03,201.06 123.34,200.9 123.66,200.54 123.98,199.9 124.3,198.93 124.61,197.64 124.93,196.07 125.25,194.31 125.56,192.51 125.88,190.8 126.2,189.29 126.52,188.03 126.83,187.05 127.15,186.3 127.47,185.75 127.78,185.35 128.1,185.07 128.42,184.87 128.74,184.73 129.05,184.64 129.37,184.6 129.69,184.58 130,184.59 130.32,184.62 130.64,184.66 130.96,184.72 131.27,184.78 131.59,184.85 131.91,184.91 132.22,184.97 132.54,185.03 132.86,185.08 133.18,185.13 133.49,185.17 133.81,185.2 134.13,185.23 134.44,185.25 134.76,185.26 135.08,185.27 135.4,185.28 135.71,185.29 136.03,185.29 136.35,185.29 136.66,185.3 136.98,185.3 137.3,185.3 137.62,185.3 137.93,185.3 138.25,185.3 138.57,185.29 138.88,185.29 139.2,185.29 139.52,185.28 139.84,185.27 140.15,185.26 140.47,185.25 140.79,185.24 141.1,185.23 141.42,185.23 141.74,185.23 142.06,185.19 142.37,185.05 142.69,184.76 143.01,184.24 143.32,183.45 143.64,182.39 143.96,181.1 144.28,179.67 144.59,178.2 144.91,176.8 145.23,175.56 145.54,174.54 145.86,173.73 146.18,173.12 146.5,172.67 146.81,172.34 147.13,172.11 147.45,171.95 147.76,171.83 148.08,171.76 148.4,171.72 148.72,171.71 149.03,171.72 149.35,171.74 149.67,171.78 149.98,171.82 150.3,171.87 150.62,171.93 150.94,171.98 151.25,172.03 151.57,172.08 151.89,172.12 152.2,172.16 152.52,172.19 152.84,172.22 153.16,172.24 153.47,172.26 153.79,172.27 154.11,172.28 154.42,172.28 154.74,172.29 155.06,172.29 155.38,172.3 155.69,172.3 156.01,172.3 156.33,172.3 156.64,172.3 156.96,172.3 157.28,172.3 157.6,172.29 157.91,172.29 158.23,172.28 158.55,172.28 158.87,172.26 159.18,172.25 159.5,172.23 159.82,172.22 160.13,172.21 160.45,172.21 160.77,172.21 161.09,172.15 161.4,171.98 161.72,171.6 162.04,170.93 162.35,169.92 162.67,168.56 162.99,166.91 163.31,165.07 163.62,163.17 163.94,161.37 164.26,159.79 164.57,158.47 164.89,157.44 165.21,156.65 165.53,156.08 165.84,155.66 166.16,155.36 166.48,155.15 166.79,155 167.11,154.91 167.43,154.86 167.75,154.84 168.06,154.85 168.38,154.88 168.7,154.93 169.01,154.99 169.33,155.05 169.65,155.12 169.97,155.19 170.28,155.26 170.6,155.32 170.92,155.37 171.23,155.42 171.55,155.46 171.87,155.5 172.19,155.52 172.5,155.54 172.82,155.56 173.14,155.57 173.45,155.58 173.77,155.59 174.09,155.59 174.41,155.59 174.72,155.6 175.04,155.6 175.36,155.6 175.67,155.6 175.99,155.6 176.31,155.6 176.63,155.59 176.94,155.59 177.26,155.59 177.58,155.58 177.89,155.57 178.21,155.56 178.53,155.54 178.85,155.53 179.16,155.53 179.48,155.53 179.8,155.52 180.11,155.47 180.43,155.33 180.75,155 181.07,154.43 181.38,153.56 181.7,152.4 182.02,150.98 182.33,149.41 182.65,147.78 182.97,146.24 183.29,144.88 183.6,143.76 183.92,142.87 184.24,142.2 184.55,141.71 184.87,141.35 185.19,141.09 185.51,140.91 185.82,140.79 186.14,140.71 186.46,140.67 186.77,140.65 187.09,140.66 187.41,140.69 187.73,140.73 188.04,140.78 188.36,140.83 188.68,140.89 188.99,140.95 189.31,141.01 189.63,141.06 189.95,141.11 190.26,141.15 190.58,141.18 190.9,141.21 191.21,141.23 191.53,141.25 191.85,141.27 192.17,141.28 192.48,141.28 192.8,141.29 193.12,141.29 193.43,141.29 193.75,141.3 194.07,141.3 194.39,141.3 194.7,141.3 195.02,141.3 195.34,141.3 195.65,141.29 195.97,141.29 196.29,141.28 196.61,141.28 196.92,141.26 197.24,141.25 197.56,141.24 197.87,141.22 198.19,141.22 198.51,141.22 198.83,141.21 199.14,141.16 199.46,140.99 199.78,140.62 200.09,139.96 200.41,138.98 200.73,137.65 201.05,136.04 201.36,134.24 201.68,132.39 202,130.64 202.31,129.09 202.63,127.8 202.95,126.79 203.27,126.03 203.58,125.46 203.9,125.05 204.22,124.76 204.53,124.56 204.85,124.42 205.17,124.33 205.49,124.28 205.8,124.26 206.12,124.27 206.44,124.3 206.75,124.35 207.07,124.4 207.39,124.47 207.71,124.53 208.02,124.6 208.34,124.67 208.66,124.73 208.97,124.78 209.29,124.83 209.61,124.87 209.93,124.9 210.24,124.92 210.56,124.94 210.88,124.96 211.19,124.97 211.51,124.98 211.83,124.99 212.15,124.99 212.46,124.99 212.78,125 213.1,125 213.41,125 213.73,125 214.05,125 214.37,125 214.68,124.99 215,124.99 215.32,124.99 215.63,124.98 215.95,124.98 216.27,124.97 216.59,124.95 216.9,124.95 217.22,124.94 217.54,124.94 217.85,124.94 218.17,124.9 218.49,124.78 218.81,124.52 219.12,124.07 219.44,123.37 219.76,122.45 220.07,121.32 220.39,120.06 220.71,118.77 221.03,117.54 221.34,116.46 221.66,115.56 221.98,114.85 222.3,114.32 222.61,113.92 222.93,113.64 223.25,113.43 223.56,113.29 223.88,113.19 224.2,113.13 224.52,113.1 224.83,113.08 225.15,113.09 225.47,113.11 225.78,113.14 226.1,113.18 226.42,113.23 226.74,113.27 227.05,113.32 227.37,113.37 227.69,113.41 228,113.45 228.32,113.48 228.64,113.51 228.96,113.53 229.27,113.55 229.59,113.56 229.91,113.57 230.22,113.58 230.54,113.59 230.86,113.59 231.18,113.59 231.49,113.6 231.81,113.6 232.13,113.6 232.44,113.6 232.76,113.6 233.08,113.6 233.4,113.6 233.71,113.59 234.03,113.59 234.35,113.59 234.66,113.58 234.98,113.57 235.3,113.56 235.62,113.55 235.93,113.54 236.25,113.53 236.57,113.53 236.88,113.53 237.2,113.48 237.52,113.35 237.84,113.05 238.15,112.52 238.47,111.72 238.79,110.64 239.1,109.34 239.42,107.88 239.74,106.39 240.06,104.96 240.37,103.71 240.69,102.67 241.01,101.85 241.32,101.23 241.64,100.78 241.96,100.44 242.28,100.21 242.59,100.04 242.91,99.93 243.23,99.86 243.54,99.82 243.86,99.8 244.18,99.81 244.5,99.83 244.81,99.87 245.13,99.92 245.45,99.97 245.76,100.02 246.08,100.08 246.4,100.13 246.72,100.18 247.03,100.22 247.35,100.26 247.67,100.29 247.98,100.32 248.3,100.34 248.62,100.36 248.94,100.37 249.25,100.38 249.57,100.38 249.89,100.39 250.2,100.39 250.52,100.4 250.84,100.4 251.16,100.4 251.47,100.4 251.79,100.4 252.11,100.4 252.42,100.4 252.74,100.39 253.06,100.39 253.38,100.39 253.69,100.38 254.01,100.37 254.33,100.36 254.64,100.35 254.96,100.34 255.28,100.33 255.6,100.33 255.91,100.33 256.23,100.29 256.55,100.16 256.86,99.87 257.18,99.35 257.5,98.58 257.82,97.53 258.13,96.27 258.45,94.86 258.77,93.4 259.08,92.03 259.4,90.81 259.72,89.8 260.04,89.01 260.35,88.41 260.67,87.96 260.99,87.64 261.3,87.41 261.62,87.25 261.94,87.14 262.26,87.07 262.57,87.03 262.89,87.02 263.21,87.03 263.52,87.05 263.84,87.09 264.16,87.13 264.48,87.18 264.79,87.23 265.11,87.29 265.43,87.34 265.74,87.38 266.06,87.43 266.38,87.46 266.7,87.49 267.01,87.52 267.33,87.54 267.65,87.56 267.96,87.57 268.28,87.58 268.6,87.59 268.92,87.59 269.23,87.59 269.55,87.6 269.87,87.6 270.18,87.6 270.5,87.6 270.82,87.6 271.14,87.6 271.45,87.6 271.77,87.59 272.09,87.59 272.4,87.59 272.72,87.58 273.04,87.57 273.36,87.56 273.67,87.55 273.99,87.54 274.31,87.54 274.62,87.54 274.94,87.54 275.26,87.5 275.58,87.38 275.89,87.12 276.21,86.65 276.53,85.95 276.84,85 277.16,83.86 277.48,82.58 277.8,81.26 278.11,80.01 278.43,78.91 278.75,77.99 279.06,77.28 279.38,76.73 279.7,76.33 280.02,76.04 280.33,75.83 280.65,75.68 280.97,75.58 281.28,75.52 281.6,75.49 281.92,75.47 282.24,75.48 282.55,75.5 282.87,75.53 283.19,75.57 283.5,75.62 283.82,75.67 284.14,75.72 284.46,75.76 284.77,75.8 285.09,75.84 285.41,75.88 285.73,75.9 286.04,75.93 286.36,75.95 286.68,75.96 286.99,75.97 287.31,75.98 287.63,75.99 287.95,75.99 288.26,75.99 288.58,76 288.9,76 289.21,76 289.53,76 289.85,76 290.17,76.01 290.48,76.04 290.8,76.08 291.12,76.12 291.43,76.16 291.75,76.21 292.07,76.27 292.39,76.33 292.7,76.39 293.02,76.46 293.34,76.53 293.65,76.6 293.97,76.68 294.29,76.76 294.61,76.84 294.92,76.93 295.24,77.02 295.56,77.11 295.87,77.2 296.19,77.3" fill="none" stroke="#111111" stroke-width="1.5" stroke-linejoin="round" />
<rect x="36.7" y="1.75" width="297.1" height="216.65" fill="none" stroke="#1c1c1c" stroke-width="1.3"/>
<line x1="61.5" y1="218.4" x2="61.5" y2="213.4" stroke="#1c1c1c" stroke-width="1.2" />
<text x="61.5" y="232.8" font-family='"Liberation Serif", serif' font-size="12.2" text-anchor="middle" font-weight="normal" fill="#1a1a1a" stroke="#1a1a1a" stroke-width="0.2" >500</text>
<line x1="124.93" y1="218.4" x2="124.93" y2="213.4" stroke="#1c1c1c" stroke-width="1.2" />
<text x="124.93" y="232.8" font-family='"Liberation Serif", serif' font-size="12.2" text-anchor="middle" font-weight="normal" fill="#1a1a1a" stroke="#1a1a1a" stroke-width="0.2" >600</text>
<line x1="188.36" y1="218.4" x2="188.36" y2="213.4" stroke="#1c1c1c" stroke-width="1.2" />
<text x="188.36" y="232.8" font-family='"Liberation Serif", serif' font-size="12.2" text-anchor="middle" font-weight="normal" fill="#1a1a1a" stroke="#1a1a1a" stroke-width="0.2" >700</text>
<line x1="251.79" y1="218.4" x2="251.79" y2="213.4" stroke="#1c1c1c" stroke-width="1.2" />
<text x="251.79" y="232.8" font-family='"Liberation Serif", serif' font-size="12.2" text-anchor="middle" font-weight="normal" fill="#1a1a1a" stroke="#1a1a1a" stroke-width="0.2" >800</text>
<line x1="315.22" y1="218.4" x2="315.22" y2="213.4" stroke="#1c1c1c" stroke-width="1.2" />
<text x="315.22" y="232.8" font-family='"Liberation Serif", serif' font-size="12.2" text-anchor="middle" font-weight="normal" fill="#1a1a1a" stroke="#1a1a1a" stroke-width="0.2" >900</text>
<line x1="93.22" y1="218.4" x2="93.22" y2="215" stroke="#1c1c1c" stroke-width="1.1" />
<line x1="156.64" y1="218.4" x2="156.64" y2="215" stroke="#1c1c1c" stroke-width="1.1" />
<line x1="220.07" y1="218.4" x2="220.07" y2="215" stroke="#1c1c1c" stroke-width="1.1" />
<line x1="283.5" y1="218.4" x2="283.5" y2="215" stroke="#1c1c1c" stroke-width="1.1" />
<line x1="36.7" y1="197.59" x2="41" y2="197.59" stroke="#1c1c1c" stroke-width="1.2" />
<text x="34.2" y="202.29" font-family='"Liberation Serif", serif' font-size="13.0" text-anchor="end" font-weight="normal" fill="#1a1a1a" stroke="#1a1a1a" stroke-width="0.2" >0.6</text>
<line x1="36.7" y1="166.67" x2="41" y2="166.67" stroke="#1c1c1c" stroke-width="1.2" />
<text x="34.2" y="171.37" font-family='"Liberation Serif", serif' font-size="13.0" text-anchor="end" font-weight="normal" fill="#1a1a1a" stroke="#1a1a1a" stroke-width="0.2" >0.9</text>
<line x1="36.7" y1="135.74" x2="41" y2="135.74" stroke="#1c1c1c" stroke-width="1.2" />
<text x="34.2" y="140.44" font-family='"Liberation Serif", serif' font-size="13.0" text-anchor="end" font-weight="normal" fill="#1a1a1a" stroke="#1a1a1a" stroke-width="0.2" >1.2</text>
<line x1="36.7" y1="104.82" x2="41" y2="104.82" stroke="#1c1c1c" stroke-width="1.2" />
<text x="34.2" y="109.52" font-family='"Liberation Serif", serif' font-size="13.0" text-anchor="end" font-weight="normal" fill="#1a1a1a" stroke="#1a1a1a" stroke-width="0.2" >1.5</text>
<line x1="36.7" y1="73.9" x2="41" y2="73.9" stroke="#1c1c1c" stroke-width="1.2" />
<text x="34.2" y="78.6" font-family='"Liberation Serif", serif' font-size="13.0" text-anchor="end" font-weight="normal" fill="#1a1a1a" stroke="#1a1a1a" stroke-width="0.2" >1.8</text>
<line x1="36.7" y1="42.98" x2="41" y2="42.98" stroke="#1c1c1c" stroke-width="1.2" />
<text x="34.2" y="47.68" font-family='"Liberation Serif", serif' font-size="13.0" text-anchor="end" font-weight="normal" fill="#1a1a1a" stroke="#1a1a1a" stroke-width="0.2" >2.1</text>
<line x1="36.7" y1="12.06" x2="41" y2="12.06" stroke="#1c1c1c" stroke-width="1.2" />
<text x="34.2" y="16.76" font-family='"Liberation Serif", serif' font-size="13.0" text-anchor="end" font-weight="normal" fill="#1a1a1a" stroke="#1a1a1a" stroke-width="0.2" >2.4</text>
<line x1="36.7" y1="213.05" x2="39.4" y2="213.05" stroke="#1c1c1c" stroke-width="1.1" />
<line x1="36.7" y1="182.13" x2="39.4" y2="182.13" stroke="#1c1c1c" stroke-width="1.1" />
<line x1="36.7" y1="151.2" x2="39.4" y2="151.2" stroke="#1c1c1c" stroke-width="1.1" />
<line x1="36.7" y1="120.28" x2="39.4" y2="120.28" stroke="#1c1c1c" stroke-width="1.1" />
<line x1="36.7" y1="89.36" x2="39.4" y2="89.36" stroke="#1c1c1c" stroke-width="1.1" />
<line x1="36.7" y1="58.44" x2="39.4" y2="58.44" stroke="#1c1c1c" stroke-width="1.1" />
<line x1="36.7" y1="27.52" x2="39.4" y2="27.52" stroke="#1c1c1c" stroke-width="1.1" />
<text x="185.2" y="247.8" font-family='"Liberation Serif", serif' font-size="12.5" text-anchor="middle" font-weight="normal" fill="#1a1a1a" stroke="#1a1a1a" stroke-width="0.2" >Time (s)</text>
<text transform="translate(12.7,110.3) rotate(-90)" font-family='"Liberation Serif", serif' font-size="13.0" text-anchor="middle" fill="#1a1a1a" stroke="#1a1a1a" stroke-width="0.2">Current density (mA cm<tspan dy="-4.6" font-size="9">−2</tspan><tspan dy="4.6">)</tspan></text>
<text x="44.9" y="192" font-family='"Liberation Serif", serif' font-size="15.2" text-anchor="start" font-weight="bold" fill="#1a1a1a" stroke="#1a1a1a" stroke-width="0.2" >(a)</text>
<line x1="58.7" y1="21.7" x2="82.8" y2="21.7" stroke="#111111" stroke-width="1.6" />
<line x1="58.7" y1="37" x2="82.8" y2="37" stroke="#e8392f" stroke-width="1.6" stroke-dasharray="5.1,4.4"/>
<line x1="58.7" y1="51.2" x2="82.8" y2="51.2" stroke="#1f1fa6" stroke-width="1.6" stroke-dasharray="1.4,1.3"/>
<line x1="58.7" y1="65.6" x2="82.8" y2="65.6" stroke="#2e8b6e" stroke-width="1.6" stroke-dasharray="7.9,3.2,1.6,3.2"/>
<text x="89.3" y="26" font-family='"Liberation Sans", sans-serif' font-size="12.6" text-anchor="start" font-weight="normal" fill="#1a1a1a" stroke="#1a1a1a" stroke-width="0.2" >0.50 V</text>
<text x="89.3" y="40.65" font-family='"Liberation Sans", sans-serif' font-size="12.6" text-anchor="start" font-weight="normal" fill="#1a1a1a" stroke="#1a1a1a" stroke-width="0.2" >0.54 V</text>
<text x="89.3" y="55.3" font-family='"Liberation Sans", sans-serif' font-size="12.6" text-anchor="start" font-weight="normal" fill="#1a1a1a" stroke="#1a1a1a" stroke-width="0.2" >0.58 V</text>
<text x="89.3" y="69.95" font-family='"Liberation Sans", sans-serif' font-size="12.6" text-anchor="start" font-weight="normal" fill="#1a1a1a" stroke="#1a1a1a" stroke-width="0.2" >0.62 V</text>
<polyline points="385.7,201.8 385.74,201.8 385.82,201.8 385.93,201.8 386.09,201.8 386.28,201.8 386.52,201.8 386.79,201.8 387.1,201.8 387.41,201.8 387.73,201.8 388.04,201.8 388.35,201.8 388.66,201.8 388.97,201.8 389.28,201.8 389.59,201.8 389.91,201.8 390.22,201.8 390.53,201.8 390.84,201.8 391.15,201.8 391.46,201.8 391.78,201.8 392.09,201.8 392.4,201.8 392.71,201.8 393.02,201.8 393.33,201.8 393.65,201.8 393.96,201.8 394.27,201.8 394.58,201.8 394.89,201.8 395.2,201.8 395.51,201.8 395.83,201.8 396.14,201.8 396.45,201.8 396.76,201.8 397.07,201.8 397.38,201.8 397.7,201.8 398.01,201.8 398.32,201.8 398.63,201.8 398.94,201.8 399.25,201.8 399.57,201.8 399.88,201.8 400.19,201.8 400.5,201.8 400.81,201.8 401.12,201.8 401.44,201.8 401.75,201.8 402.06,201.8 402.37,201.8 402.68,201.8 402.99,201.8 403.3,201.8 403.62,201.8 403.93,201.8 404.24,201.8 404.55,201.8 404.86,201.8 405.17,201.8 405.49,201.8 405.8,201.8 406.11,201.8 406.42,201.8 406.73,201.8 407.04,201.8 407.36,201.8 407.67,201.8 407.98,201.8 408.29,201.8 408.6,201.8 408.91,201.8 409.22,201.8 409.54,201.8 409.85,201.8 410.16,201.8 410.47,201.8 410.78,201.8 411.09,201.8 411.41,201.8 411.72,201.8 412.03,201.8 412.34,201.8 412.65,201.8 412.96,201.8 413.28,201.8 413.59,201.8 413.9,201.8 414.21,201.8 414.52,201.8 414.83,201.8 415.14,201.8 415.46,201.8 415.77,201.8 416.08,201.8 416.39,201.8 416.7,201.8 417.01,201.8 417.33,201.8 417.64,201.8 417.95,201.8 418.26,201.8 418.57,201.8 418.88,201.8 419.2,201.8 419.51,201.8 419.82,201.8 420.13,201.8 420.44,201.8 420.75,201.8 421.06,201.8 421.38,201.8 421.69,201.8 422,201.8 422.31,201.8 422.62,201.8 422.93,201.8 423.25,201.8 423.56,201.8 423.87,201.8 424.18,201.8 424.49,201.8 424.8,201.8 425.12,201.8 425.43,201.8 425.74,201.8 426.05,201.8 426.36,201.8 426.67,201.8 426.99,201.8 427.3,201.8 427.61,201.8 427.92,201.8 428.23,201.8 428.54,201.8 428.85,201.8 429.17,201.8 429.48,201.8 429.79,201.8 430.1,201.8 430.41,201.8 430.72,201.8 431.04,201.8 431.35,201.8 431.66,201.8 431.97,201.8 432.28,201.8 432.59,201.8 432.91,201.8 433.22,201.8 433.53,201.8 433.84,201.8 434.15,201.8 434.46,201.8 434.77,201.8 435.09,201.8 435.4,201.8 435.71,201.8 436.02,201.8 436.33,201.8 436.64,201.8 436.96,201.8 437.27,201.8 437.58,201.8 437.89,201.8 438.2,201.8 438.51,201.8 438.83,201.8 439.14,201.8 439.45,201.8 439.76,201.8 440.07,201.8 440.38,201.8 440.69,201.8 441.01,201.8 441.32,201.8 441.63,201.8 441.94,201.8 442.25,201.8 442.56,201.8 442.88,201.8 443.19,201.8 443.5,201.8 443.81,201.8 444.12,201.8 444.43,201.8 444.75,201.8 445.06,201.8 445.37,201.8 445.68,201.8 445.99,201.8 446.3,201.8 446.61,201.8 446.93,201.8 447.24,201.8 447.55,201.8 447.86,201.8 448.17,201.8 448.48,201.8 448.8,201.8 449.11,201.8 449.42,201.8 449.73,201.8 450.04,201.8 450.35,201.8 450.67,201.8 450.98,201.8 451.29,201.8 451.6,201.8 451.91,201.8 452.22,201.8 452.54,201.8 452.85,201.8 453.16,201.8 453.47,201.8 453.78,201.8 454.09,201.8 454.4,201.8 454.72,201.8 455.03,201.8 455.34,201.8 455.65,201.8 455.96,201.8 456.27,201.8 456.59,201.8 456.9,201.8 457.21,201.8 457.52,201.8 457.83,201.8 458.14,201.8 458.46,201.8 458.77,201.8 459.08,201.8 459.39,201.8 459.7,201.8 460.01,201.8 460.32,201.8 460.64,201.8 460.95,201.8 461.26,201.8 461.57,201.8 461.88,201.8 462.19,201.8 462.51,201.8 462.82,201.8 463.13,201.8 463.44,201.8 463.75,201.8 464.06,201.8 464.38,201.8 464.69,201.8 465,201.8 465.31,201.8 465.62,201.8 465.93,201.8 466.24,201.8 466.56,201.8 466.87,201.8 467.18,201.8 467.49,201.8 467.8,201.8 468.11,201.8 468.43,201.8 468.74,201.8 469.05,201.8 469.36,201.8 469.67,201.8 469.98,201.8 470.3,201.8 470.61,201.8 470.92,201.8 471.23,201.8 471.54,201.8 471.85,201.8 472.16,201.8 472.48,201.8 472.79,201.8 473.1,201.8 473.41,201.8 473.72,201.8 474.03,201.8 474.35,201.8 474.66,201.8 474.97,201.8 475.28,201.8 475.59,201.8 475.9,201.8 476.22,201.8 476.53,201.8 476.84,201.8 477.15,201.8 477.46,201.8 477.77,201.8 478.09,201.8 478.4,201.8 478.71,201.8 479.02,201.8 479.33,201.8 479.64,201.8 479.95,201.8 480.27,201.8 480.58,201.8 480.89,201.8 481.2,201.8 481.51,201.8 481.82,201.8 482.14,201.8 482.45,201.8 482.76,201.8 483.07,201.8 483.38,201.8 483.69,201.8 484.01,201.8 484.32,201.8 484.63,201.8 484.94,201.8 485.25,201.8 485.56,201.8 485.87,201.8 486.19,201.8 486.5,201.8 486.81,201.8 487.1,201.76 487.36,201.68 487.59,201.57 487.81,201.41 487.99,201.21 488.16,200.98 488.29,200.71 488.41,200.39 488.54,200.12 488.7,199.88 488.89,199.69 489.1,199.53 489.33,199.41 489.59,199.33 489.87,199.29 490.18,199.28 490.48,199.28 490.79,199.27 491.1,199.27 491.4,199.26 491.71,199.26 492.02,199.26 492.32,199.25 492.63,199.25 492.93,199.24 493.24,199.24 493.55,199.24 493.85,199.23 494.16,199.23 494.47,199.22 494.77,199.22 495.08,199.21 495.38,199.21 495.69,199.21 496,199.2 496.3,199.2 496.61,199.19 496.92,199.19 497.22,199.19 497.53,199.18 497.83,199.18 498.14,199.17 498.45,199.17 498.75,199.16 499.06,199.16 499.37,199.16 499.67,199.15 499.98,199.15 500.28,199.14 500.59,199.14 500.9,199.14 501.2,199.13 501.51,199.13 501.82,199.12 502.12,199.12 502.43,199.11 502.71,199.08 502.96,199.01 503.19,198.92 503.4,198.79 503.57,198.63 503.72,198.44 503.85,198.23 503.95,197.98 504.07,197.76 504.22,197.57 504.4,197.41 504.6,197.28 504.82,197.19 505.07,197.12 505.34,197.09 505.64,197.08 505.94,197.08 506.24,197.07 506.53,197.07 506.83,197.06 507.13,197.06 507.43,197.06 507.73,197.05 508.02,197.05 508.32,197.04 508.62,197.04 508.92,197.04 509.22,197.03 509.51,197.03 509.81,197.02 510.11,197.02 510.41,197.01 510.71,197.01 511,197.01 511.3,197 511.6,197 511.9,196.99 512.19,196.99 512.49,196.99 512.79,196.98 513.09,196.98 513.39,196.97 513.68,196.97 513.98,196.96 514.28,196.96 514.58,196.96 514.88,196.95 515.17,196.95 515.47,196.94 515.77,196.94 516.07,196.94 516.37,196.93 516.66,196.93 516.96,196.92 517.26,196.92 517.56,196.91 517.83,196.88 518.08,196.81 518.31,196.72 518.52,196.59 518.7,196.43 518.86,196.24 518.99,196.03 519.11,195.78 519.24,195.56 519.39,195.37 519.57,195.21 519.76,195.08 519.98,194.99 520.21,194.92 520.47,194.89 520.75,194.88 521.02,194.88 521.3,194.87 521.58,194.87 521.86,194.86 522.13,194.86 522.41,194.86 522.69,194.85 522.96,194.85 523.24,194.84 523.52,194.84 523.79,194.84 524.07,194.83 524.35,194.83 524.63,194.82 524.9,194.82 525.18,194.81 525.46,194.81 525.73,194.81 526.01,194.8 526.29,194.8 526.57,194.79 526.84,194.79 527.12,194.79 527.4,194.78 527.67,194.78 527.95,194.77 528.23,194.77 528.51,194.76 528.78,194.76 529.06,194.76 529.34,194.75 529.61,194.75 529.89,194.74 530.17,194.74 530.44,194.74 530.72,194.73 531,194.73 531.28,194.72 531.55,194.72 531.83,194.71 532.09,194.53 532.34,194.16 532.57,193.62 532.78,192.89 532.98,191.98 533.16,190.89 533.33,189.62 533.47,188.17 533.64,186.89 533.81,185.78 534,184.84 534.2,184.06 534.41,183.46 534.64,183.02 534.88,182.75 535.12,182.65 535.38,182.57 535.62,182.5 535.88,182.45 536.12,182.42 536.38,182.41 536.62,182.41 536.88,182.43 537.12,182.47 537.38,182.51 537.62,182.54 537.88,182.58 538.12,182.62 538.38,182.66 538.62,182.69 538.88,182.73 539.12,182.77 539.38,182.8 539.62,182.83 539.88,182.86 540.12,182.89 540.38,182.91 540.62,182.93 540.88,182.94 541.12,182.96 541.38,182.97 541.62,182.98 541.88,182.99 542.12,183.01 542.38,183.02 542.62,183.03 542.88,183.04 543.12,183.06 543.38,183.07 543.63,183.09 543.89,183.1 544.16,183.12 544.42,183.14 544.69,183.16 544.96,183.19 545.24,183.21 545.51,183.24 545.79,183.26 546.06,183.29 546.34,183.31 546.61,183.34 546.89,183.36 547.16,183.39 547.44,183.41 547.7,183.24 547.94,182.88 548.17,182.32 548.38,181.56 548.58,180.61 548.76,179.46 548.93,178.12 549.07,176.58 549.24,175.23 549.43,174.06 549.64,173.08 549.86,172.28 550.11,171.66 550.37,171.23 550.65,170.98 550.95,170.92 551.24,170.87 551.53,170.84 551.81,170.83 552.09,170.83 552.36,170.84 552.62,170.87 552.88,170.92 553.12,170.98 553.38,171.04 553.62,171.11 553.88,171.17 554.12,171.23 554.38,171.29 554.62,171.36 554.88,171.42 555.12,171.48 555.38,171.53 555.62,171.58 555.88,171.61 556.12,171.63 556.38,171.64 556.62,171.64 556.88,171.63 557.12,171.62 557.38,171.6 557.62,171.58 557.88,171.56 558.12,171.54 558.38,171.52 558.62,171.5 558.88,171.48 559.12,171.47 559.38,171.45 559.63,171.45 559.89,171.46 560.15,171.47 560.41,171.49 560.67,171.52 560.94,171.55 561.21,171.6 561.48,171.64 561.75,171.68 562.02,171.73 562.28,171.77 562.55,171.82 562.82,171.86 563.09,171.9 563.36,171.95 563.61,171.77 563.86,171.38 564.09,170.77 564.3,169.94 564.5,168.9 564.69,167.63 564.87,166.15 565.03,164.45 565.21,162.95 565.41,161.66 565.62,160.57 565.85,159.68 566.1,159 566.37,158.52 566.65,158.24 566.95,158.16 567.24,158.1 567.53,158.06 567.81,158.04 568.09,158.03 568.36,158.05 568.62,158.07 568.88,158.12 569.12,158.18 569.38,158.24 569.62,158.31 569.88,158.37 570.12,158.43 570.38,158.49 570.62,158.56 570.88,158.62 571.12,158.68 571.38,158.74 571.62,158.8 571.88,158.85 572.12,158.9 572.38,158.95 572.62,158.99 572.88,159.03 573.12,159.07 573.38,159.11 573.62,159.14 573.88,159.18 574.12,159.22 574.38,159.26 574.62,159.29 574.88,159.33 575.12,159.37 575.36,159.41 575.59,159.44 575.81,159.48 576.02,159.52 576.21,159.56 576.4,159.59 576.57,159.63 576.73,159.67 576.89,159.71 577.06,159.74 577.22,159.78 577.38,159.82 577.54,159.86 577.71,159.89 577.87,159.93 578.03,159.97 578.2,159.65 578.37,158.97 578.55,157.92 578.73,156.52 578.91,154.77 579.1,152.65 579.3,150.17 579.5,147.33 579.7,144.84 579.89,142.69 580.08,140.89 580.27,139.43 580.45,138.32 580.63,137.56 580.81,137.14 580.99,137.06 581.16,136.99 581.34,136.91 581.51,136.84 581.69,136.76 581.86,136.69 582.04,136.61 582.21,136.54 582.39,136.46 582.56,136.41 582.74,136.38 582.92,136.36 583.1,136.37 583.29,136.4 583.47,136.46 583.66,136.53 583.84,136.62 584.03,136.72 584.22,136.81 584.41,136.9 584.59,137 584.78,137.09 584.97,137.18 585.16,137.28 585.34,137.37 585.53,137.45 585.72,137.5 585.91,137.53 586.09,137.54 586.28,137.54 586.47,137.51 586.66,137.46 586.84,137.39 587.03,137.32 587.22,137.25 587.41,137.18 587.59,137.12 587.78,137.05 587.97,136.98 588.16,136.91 588.34,136.84 588.53,136.79 588.72,136.77 588.91,136.76 589.09,136.78 589.28,136.81 589.47,136.87 589.66,136.95 589.84,137.05 590.03,137.15 590.22,137.25 590.41,137.35 590.59,137.45 590.78,137.55 590.97,137.65 591.16,137.75 591.34,137.85 591.53,137.94 591.71,138.01 591.89,138.06 592.06,138.1 592.23,138.13 592.4,138.14 592.57,138.13 592.73,138.12 592.89,138.1 593.06,138.08 593.22,138.06 593.38,138.04 593.54,138.02 593.71,138 593.87,137.98 594.03,137.97 594.19,137.62 594.35,136.95 594.51,135.95 594.67,134.63 594.82,132.99 594.97,131.01 595.12,128.71 595.28,126.09 595.44,123.78 595.61,121.78 595.8,120.11 595.99,118.74 596.2,117.7 596.42,116.97 596.65,116.55 596.9,116.45 597.14,116.35 597.38,116.25 597.63,116.15 597.87,116.05 598.12,115.95 598.36,115.85 598.6,115.75 598.85,115.65 599.08,115.58 599.31,115.53 599.53,115.5 599.74,115.5 599.95,115.53 600.15,115.58 600.33,115.65 600.52,115.75 600.7,115.85 600.88,115.95 601.06,116.05 601.24,116.15 601.42,116.25 601.6,116.35 601.78,116.45 601.97,116.55 602.15,116.64 602.33,116.72 602.51,116.8 602.69,116.86 602.87,116.92 603.05,116.97 603.23,117.01 603.42,117.04 603.6,117.07 603.78,117.1 603.96,117.13 604.14,117.17 604.32,117.2 604.5,117.23 604.68,117.26 604.87,117.29 605.05,117.34 605.23,117.4 605.41,117.47 605.59,117.56 605.77,117.67 605.95,117.79 606.13,117.93 606.32,118.08 606.5,118.23 606.68,118.38 606.86,118.53 607.04,118.68 607.22,118.83 607.4,118.98 607.58,119.13 607.77,119.28 607.96,119.39 608.17,119.48 608.4,119.53 608.64,119.55 608.89,119.53 609.16,119.49 609.45,119.41 609.75,119.29 610.04,118.85 610.31,118.06 610.57,116.94 610.81,115.48 611.04,113.69 611.25,111.56 611.46,109.1 611.64,106.3 611.83,103.85 612.02,101.76 612.2,100.03 612.39,98.65 612.57,97.62 612.75,96.95 612.93,96.63 613.12,96.67 613.3,96.71 613.48,96.74 613.66,96.78 613.84,96.82 614.02,96.86 614.2,96.89 614.38,96.93 614.57,96.97 614.75,97.01 614.95,97.06 615.15,97.12 615.36,97.18 615.58,97.25 615.8,97.33 616.03,97.41 616.27,97.49 616.51,97.58 616.74,97.67 616.98,97.76 617.22,97.84 617.46,97.93 617.69,98.02 617.93,98.11 618.17,98.19 618.42,98.25 618.67,98.29 618.94,98.3 619.21,98.28 619.5,98.23 619.79,98.16 620.09,98.06 620.41,97.94 620.71,97.84 620.99,97.78 621.26,97.75 621.52,97.74 621.77,97.77 622,97.83 622.22,97.92 622.43,98.03 622.63,98.15 622.84,98.27 623.05,98.39 623.25,98.51 623.46,98.63 623.67,98.75 623.87,98.87 624.08,98.98 624.29,98.61 624.5,97.73 624.71,96.35 624.93,94.48 625.14,92.11 625.36,89.25 625.59,85.88 625.81,82.02 626.04,78.64 626.27,75.73 626.51,73.31 626.74,71.37 626.98,69.9 627.23,68.92 627.48,68.41 627.73,68.39 627.98,68.36 628.23,68.34 628.48,68.31 628.73,68.29 628.98,68.26 629.23,68.24 629.48,68.21 629.73,68.19 629.97,68.18 630.22,68.18 630.47,68.19 630.72,68.22 630.96,68.26 631.21,68.32 631.45,68.38 631.7,68.47 631.94,68.55 632.18,68.63 632.43,68.71 632.67,68.79 632.92,68.87 633.16,68.95 633.4,69.03 633.65,69.12 633.89,69.2 634.13,69.28 634.38,69.36 634.62,69.45 634.87,69.53 635.11,69.62 635.35,69.71 635.6,69.79 635.84,69.88 636.08,69.97 636.33,70.06 636.57,70.14 636.82,70.23 637.06,70.32 637.3,70.41 637.55,70.49 637.79,70.58 638.02,70.66 638.25,70.75 638.47,70.83 638.68,70.91 638.89,70.99 639.1,71.06 639.3,71.14 639.5,70.86 639.69,70.23 639.87,69.25 640.05,67.92 640.23,66.24 640.4,64.2 640.57,61.82 640.73,59.08 640.9,56.7 641.06,54.66 641.23,52.98 641.4,51.65 641.58,50.67 641.76,50.04 641.93,49.76 642.12,49.84 642.3,49.91 642.48,49.99 642.66,50.06 642.84,50.14 643.02,50.21 643.2,50.29 643.38,50.36 643.57,50.44 643.75,50.51 643.93,50.59 644.1,50.66 644.28,50.74 644.46,50.81 644.64,50.89 644.81,50.96 644.99,51.04 645.16,51.11 645.34,51.19 645.51,51.26 645.69,51.34 645.86,51.41 646.04,51.49 646.21,51.56 646.39,51.64 646.57,51.69 646.77,51.73 646.97,51.74 647.18,51.73 647.4,51.71 647.63,51.66 647.88,51.59 648.12,51.51 648.38,51.49 648.62,51.54 648.88,51.66 649.12,51.84 649.38,52.1 649.62,52.42 649.88,52.82 650.12,53.28 650.38,53.7 650.64,54.08 650.91,54.42 651.19,54.71 651.47,54.96 651.76,55.17 652.05,55.34 652.35,55.46 652.65,55.28 652.95,54.8 653.25,54.02 653.55,52.93 653.85,51.54 654.15,49.85 654.45,47.85 654.75,45.55 655.04,43.55 655.33,41.86 655.6,40.47 655.87,39.38 656.13,38.6 656.39,38.12 656.63,37.94 656.87,38.06 657.11,38.19 657.35,38.31 657.59,38.43 657.83,38.55 658.07,38.68 658.31,38.8 658.55,38.92 658.8,39.03 659.04,39.15 659.28,39.27 659.53,39.39 659.77,39.51 660.02,39.63 660.26,39.75 660.5,39.87 660.75,39.98 661,40.1 661.26,40.2 661.52,40.3 661.79,40.39 662.07,40.47 662.36,40.55 662.65,40.62 662.95,40.68 663.24,40.76 663.51,40.85 663.77,40.96 664.01,41.09 664.24,41.23 664.45,41.38 664.66,41.56 664.84,41.74 665.04,41.92 665.24,42.08 665.45,42.23 665.66,42.36 665.89,42.48 666.12,42.59 666.35,42.68 666.6,42.77 666.84,42.85 667.08,42.93 667.33,43.01 667.57,43.09 667.82,43.17 668.06,43.25 668.3,43.33 668.55,43.42 668.79,43.5 669.03,43.58 669.27,43.65 669.51,43.73 669.75,43.81 669.99,43.89 670.23,43.96 670.47,44.04 670.68,44.1 670.85,44.16 671,44.21 671.12,44.24 671.21,44.27 671.27,44.29 671.3,44.3" fill="none" stroke="#111111" stroke-width="1.6" stroke-linejoin="round" />
<rect x="425.1" y="193.3" width="61.5" height="14.9" fill="none" stroke="#e86a6a" stroke-width="1.0"/>
<line x1="433.3" y1="193.3" x2="433.3" y2="111.8" stroke="#333333" stroke-width="1.0" />
<path d="M430.6,113.2 L433.3,111.8 L436,113.2 L433.3,107 Z" fill="#111"/>
<line x1="488.3" y1="171.2" x2="488.3" y2="193.3" stroke="#444444" stroke-width="1.0" />
<path d="M485.7,191.8 L488.3,193.3 L490.9,191.8 L488.3,198.2 Z" fill="#111"/>
<line x1="531.7" y1="132.8" x2="531.7" y2="189.1" stroke="#444444" stroke-width="1.0" />
<path d="M529.1,187.6 L531.7,189.1 L534.3,187.6 L531.7,194.2 Z" fill="#111"/>
<line x1="577.7" y1="87.3" x2="577.7" y2="145.7" stroke="#444444" stroke-width="1.0" />
<path d="M575.1,144.2 L577.7,145.7 L580.3,144.2 L577.7,150.8 Z" fill="#111"/>
<line x1="624.3" y1="35.6" x2="624.3" y2="88.1" stroke="#444444" stroke-width="1.0" />
<path d="M621.7,86.6 L624.3,88.1 L626.9,86.6 L624.3,93.2 Z" fill="#111"/>
<text x="564.9" y="29.5" font-family='"Liberation Sans", sans-serif' font-size="11" text-anchor="start" font-weight="normal" fill="#1a1a1a" stroke="#1a1a1a" stroke-width="0.2" >0.8 mmol L<tspan dy="-3.0" font-size="10.2">−1</tspan><tspan dy="3.0" dx="1"> glucose</tspan></text>
<text x="516" y="80.2" font-family='"Liberation Sans", sans-serif' font-size="11" text-anchor="start" font-weight="normal" fill="#1a1a1a" stroke="#1a1a1a" stroke-width="0.2" >0.4 mmol L<tspan dy="-3.0" font-size="10.2">−1</tspan><tspan dy="3.0" dx="1"> glucose</tspan></text>
<text x="464" y="124.1" font-family='"Liberation Sans", sans-serif' font-size="11" text-anchor="start" font-weight="normal" fill="#1a1a1a" stroke="#1a1a1a" stroke-width="0.2" >0.2 mmol L<tspan dy="-3.0" font-size="10.2">−1</tspan><tspan dy="3.0" dx="1"> glucose</tspan></text>
<text x="456.4" y="148.6" font-family='"Liberation Sans", sans-serif' font-size="11" text-anchor="start" font-weight="normal" fill="#1a1a1a" stroke="#1a1a1a" stroke-width="0.2" >40 μmol L<tspan dy="-3.0" font-size="10.2">−1</tspan></text>
<text x="487.3" y="164.2" font-family='"Liberation Sans", sans-serif' font-size="11" text-anchor="middle" font-weight="normal" fill="#1a1a1a" stroke="#1a1a1a" stroke-width="0.2" >glucose</text>
<rect x="385.7" y="1.5" width="296.1" height="216.8" fill="none" stroke="#1c1c1c" stroke-width="1.3"/>
<line x1="385.7" y1="218.3" x2="385.7" y2="213.3" stroke="#1c1c1c" stroke-width="1.2" />
<text x="385.7" y="232.8" font-family='"Liberation Serif", serif' font-size="12.2" text-anchor="middle" font-weight="normal" fill="#1a1a1a" stroke="#1a1a1a" stroke-width="0.2" >300</text>
<line x1="436.55" y1="218.3" x2="436.55" y2="213.3" stroke="#1c1c1c" stroke-width="1.2" />
<text x="436.55" y="232.8" font-family='"Liberation Serif", serif' font-size="12.2" text-anchor="middle" font-weight="normal" fill="#1a1a1a" stroke="#1a1a1a" stroke-width="0.2" >400</text>
<line x1="487.4" y1="218.3" x2="487.4" y2="213.3" stroke="#1c1c1c" stroke-width="1.2" />
<text x="487.4" y="232.8" font-family='"Liberation Serif", serif' font-size="12.2" text-anchor="middle" font-weight="normal" fill="#1a1a1a" stroke="#1a1a1a" stroke-width="0.2" >500</text>
<line x1="538.25" y1="218.3" x2="538.25" y2="213.3" stroke="#1c1c1c" stroke-width="1.2" />
<text x="534.55" y="232.8" font-family='"Liberation Serif", serif' font-size="12.2" text-anchor="middle" font-weight="normal" fill="#1a1a1a" stroke="#1a1a1a" stroke-width="0.2" >600</text>
<line x1="589.1" y1="218.3" x2="589.1" y2="213.3" stroke="#1c1c1c" stroke-width="1.2" />
<text x="589.1" y="232.8" font-family='"Liberation Serif", serif' font-size="12.2" text-anchor="middle" font-weight="normal" fill="#1a1a1a" stroke="#1a1a1a" stroke-width="0.2" >700</text>
<line x1="639.95" y1="218.3" x2="639.95" y2="213.3" stroke="#1c1c1c" stroke-width="1.2" />
<text x="639.95" y="232.8" font-family='"Liberation Serif", serif' font-size="12.2" text-anchor="middle" font-weight="normal" fill="#1a1a1a" stroke="#1a1a1a" stroke-width="0.2" >800</text>
<line x1="411.12" y1="218.3" x2="411.12" y2="214.9" stroke="#1c1c1c" stroke-width="1.1" />
<line x1="461.97" y1="218.3" x2="461.97" y2="214.9" stroke="#1c1c1c" stroke-width="1.1" />
<line x1="512.82" y1="218.3" x2="512.82" y2="214.9" stroke="#1c1c1c" stroke-width="1.1" />
<line x1="563.67" y1="218.3" x2="563.67" y2="214.9" stroke="#1c1c1c" stroke-width="1.1" />
<line x1="614.52" y1="218.3" x2="614.52" y2="214.9" stroke="#1c1c1c" stroke-width="1.1" />
<line x1="665.38" y1="218.3" x2="665.38" y2="214.9" stroke="#1c1c1c" stroke-width="1.1" />
<line x1="385.7" y1="201.9" x2="390" y2="201.9" stroke="#1c1c1c" stroke-width="1.2" />
<text x="383" y="206.4" font-family='"Liberation Serif", serif' font-size="12.7" text-anchor="end" font-weight="normal" fill="#1a1a1a" stroke="#1a1a1a" stroke-width="0.2" >0</text>
<line x1="385.7" y1="171.1" x2="390" y2="171.1" stroke="#1c1c1c" stroke-width="1.2" />
<text x="383" y="175.6" font-family='"Liberation Serif", serif' font-size="12.7" text-anchor="end" font-weight="normal" fill="#1a1a1a" stroke="#1a1a1a" stroke-width="0.2" >10</text>
<line x1="385.7" y1="140.3" x2="390" y2="140.3" stroke="#1c1c1c" stroke-width="1.2" />
<text x="383" y="144.8" font-family='"Liberation Serif", serif' font-size="12.7" text-anchor="end" font-weight="normal" fill="#1a1a1a" stroke="#1a1a1a" stroke-width="0.2" >20</text>
<line x1="385.7" y1="109.5" x2="390" y2="109.5" stroke="#1c1c1c" stroke-width="1.2" />
<text x="383" y="114" font-family='"Liberation Serif", serif' font-size="12.7" text-anchor="end" font-weight="normal" fill="#1a1a1a" stroke="#1a1a1a" stroke-width="0.2" >30</text>
<line x1="385.7" y1="78.7" x2="390" y2="78.7" stroke="#1c1c1c" stroke-width="1.2" />
<text x="383" y="83.2" font-family='"Liberation Serif", serif' font-size="12.7" text-anchor="end" font-weight="normal" fill="#1a1a1a" stroke="#1a1a1a" stroke-width="0.2" >40</text>
<line x1="385.7" y1="47.9" x2="390" y2="47.9" stroke="#1c1c1c" stroke-width="1.2" />
<text x="383" y="52.4" font-family='"Liberation Serif", serif' font-size="12.7" text-anchor="end" font-weight="normal" fill="#1a1a1a" stroke="#1a1a1a" stroke-width="0.2" >50</text>
<line x1="385.7" y1="17.1" x2="390" y2="17.1" stroke="#1c1c1c" stroke-width="1.2" />
<text x="383" y="21.6" font-family='"Liberation Serif", serif' font-size="12.7" text-anchor="end" font-weight="normal" fill="#1a1a1a" stroke="#1a1a1a" stroke-width="0.2" >60</text>
<line x1="385.7" y1="186.5" x2="388.4" y2="186.5" stroke="#1c1c1c" stroke-width="1.1" />
<line x1="385.7" y1="155.7" x2="388.4" y2="155.7" stroke="#1c1c1c" stroke-width="1.1" />
<line x1="385.7" y1="124.9" x2="388.4" y2="124.9" stroke="#1c1c1c" stroke-width="1.1" />
<line x1="385.7" y1="94.1" x2="388.4" y2="94.1" stroke="#1c1c1c" stroke-width="1.1" />
<line x1="385.7" y1="63.3" x2="388.4" y2="63.3" stroke="#1c1c1c" stroke-width="1.1" />
<line x1="385.7" y1="32.5" x2="388.4" y2="32.5" stroke="#1c1c1c" stroke-width="1.1" />
<text x="533.7" y="248" font-family='"Liberation Serif", serif' font-size="12.5" text-anchor="middle" font-weight="normal" fill="#1a1a1a" stroke="#1a1a1a" stroke-width="0.2" >Time (s)</text>
<text transform="translate(366,110) rotate(-90)" font-family='"Liberation Serif", serif' font-size="13.0" text-anchor="middle" fill="#1a1a1a" stroke="#1a1a1a" stroke-width="0.2">Current density (mA cm<tspan dy="-4.6" font-size="9">−2</tspan><tspan dy="4.6">)</tspan></text>
<text x="393.3" y="192.3" font-family='"Liberation Serif", serif' font-size="15.5" text-anchor="start" font-weight="bold" fill="#1a1a1a" stroke="#1a1a1a" stroke-width="0.2" >(b)</text>
<rect x="412.7" y="10.6" width="99" height="84.6" fill="#fff" stroke="none"/>
<polyline points="416.6,85 416.66,85.01 416.78,85.03 416.96,85.06 417.19,85.09 417.43,85.13 417.67,85.17 417.91,85.21 418.14,85.24 418.38,85.22 418.63,85.13 418.88,84.98 419.12,84.77 419.38,84.56 419.62,84.34 419.88,84.13 420.12,83.92 420.39,83.78 420.67,83.71 420.97,83.71 421.28,83.79 421.59,83.86 421.91,83.94 422.22,84.01 422.53,84.09 422.86,84.18 423.2,84.29 423.56,84.43 423.94,84.58 424.31,84.73 424.69,84.88 425.06,85.03 425.44,85.18 425.81,85.29 426.19,85.38 426.56,85.44 426.94,85.46 427.31,85.49 427.69,85.51 428.06,85.54 428.44,85.56 428.78,85.53 429.09,85.44 429.38,85.3 429.62,85.1 429.88,84.9 430.12,84.7 430.38,84.5 430.62,84.3 430.91,84.25 431.22,84.35 431.56,84.6 431.94,85 432.31,85.24 432.69,85.31 433.06,85.22 433.44,84.97 433.81,84.85 434.19,84.85 434.56,84.97 434.94,85.22 435.31,85.34 435.69,85.31 436.06,85.15 436.44,84.85 436.81,84.7 437.19,84.7 437.56,84.85 437.94,85.15 438.31,85.31 438.69,85.34 439.06,85.22 439.44,84.97 439.78,84.89 440.09,84.98 440.38,85.24 440.62,85.66 440.86,85.49 441.09,84.71 441.3,83.34 441.5,81.36 441.73,79.82 441.98,78.71 442.25,78.03 442.55,77.78 442.87,77.59 443.21,77.48 443.56,77.44 443.94,77.46 444.31,77.49 444.69,77.51 445.06,77.54 445.44,77.56 445.81,77.54 446.19,77.48 446.56,77.38 446.94,77.22 447.31,77.08 447.69,76.92 448.06,76.78 448.44,76.62 448.8,76.47 449.14,76.31 449.47,76.14 449.78,75.96 450.09,75.79 450.41,75.61 450.72,75.44 451.03,75.26 451.33,75.17 451.61,75.17 451.88,75.26 452.12,75.44 452.38,75.61 452.62,75.79 452.88,75.96 453.12,76.14 453.39,76.31 453.67,76.49 453.97,76.66 454.28,76.84 454.59,77.01 454.91,77.19 455.22,77.36 455.53,77.54 455.83,77.72 456.11,77.91 456.38,78.1 456.62,78.3 456.88,78.5 457.12,78.7 457.38,78.9 457.62,79.1 457.87,79.29 458.11,79.48 458.34,79.66 458.56,79.84 458.79,80.01 459.01,80.19 459.24,80.36 459.46,80.54 459.72,80.24 460.01,79.48 460.32,78.25 460.68,76.55 461.02,75.11 461.36,73.92 461.69,72.99 462.01,72.31 462.35,71.85 462.7,71.6 463.06,71.56 463.44,71.74 463.84,72.03 464.28,72.44 464.75,72.97 465.25,73.62 465.69,74.06 466.06,74.29 466.38,74.3 466.62,74.1 466.88,73.9 467.12,73.7 467.38,73.5 467.62,73.3 467.88,73.17 468.12,73.1 468.38,73.09 468.62,73.16 468.88,73.22 469.12,73.28 469.38,73.34 469.62,73.41 469.91,73.44 470.22,73.46 470.56,73.44 470.94,73.41 471.31,73.37 471.69,73.33 472.06,73.29 472.44,73.26 472.81,73.26 473.19,73.3 473.56,73.39 473.94,73.51 474.31,73.64 474.69,73.76 475.06,73.89 475.44,74.01 475.81,74.09 476.19,74.13 476.56,74.12 476.94,74.07 477.31,74.02 477.69,73.98 478.06,73.93 478.44,73.88 478.78,73.82 479.09,73.78 479.38,73.72 479.62,73.67 479.88,73.62 480.12,73.57 480.38,73.52 480.62,73.48 480.91,73.23 481.22,72.78 481.56,72.12 481.94,71.28 482.31,70.5 482.69,69.8 483.06,69.18 483.44,68.62 483.78,68.23 484.09,67.98 484.38,67.89 484.62,67.96 484.88,68.02 485.12,68.08 485.38,68.14 485.62,68.21 485.88,68.29 486.12,68.4 486.38,68.52 486.62,68.67 486.88,68.83 487.12,68.98 487.38,69.12 487.62,69.28 487.88,69.36 488.12,69.38 488.38,69.33 488.62,69.22 488.88,69.11 489.12,68.99 489.38,68.88 489.62,68.77 489.91,68.69 490.22,68.64 490.56,68.62 490.94,68.63 491.31,68.64 491.69,68.66 492.06,68.67 492.44,68.68 492.81,68.71 493.19,68.74 493.56,68.79 493.94,68.86 494.31,68.92 494.69,68.98 495.06,69.04 495.44,69.11 495.79,69.14 496.12,69.13 496.44,69.1 496.73,69.03 497.02,68.97 497.31,68.9 497.6,68.83 497.9,68.77 498.19,68.7 498.48,68.63 498.77,68.57 499.06,68.5 499.35,68.41 499.63,68.3 499.91,68.17 500.19,68.02 500.39,67.91 500.53,67.84 500.6,67.8 500.6,10.6" fill="none" stroke="#111111" stroke-width="1.5" stroke-linejoin="round" />
<rect x="412.7" y="10.6" width="99" height="84.6" fill="none" stroke="#333333" stroke-width="1.1"/>
<line x1="426" y1="95.2" x2="426" y2="92.2" stroke="#333333" stroke-width="1.0" />
<text x="426" y="105.1" font-family='"Liberation Serif", serif' font-size="10" text-anchor="middle" font-weight="normal" fill="#222222" stroke="#222222" stroke-width="0.2" >390</text>
<line x1="446.1" y1="95.2" x2="446.1" y2="92.2" stroke="#333333" stroke-width="1.0" />
<text x="446.1" y="105.1" font-family='"Liberation Serif", serif' font-size="10" text-anchor="middle" font-weight="normal" fill="#222222" stroke="#222222" stroke-width="0.2" >420</text>
<line x1="466.2" y1="95.2" x2="466.2" y2="92.2" stroke="#333333" stroke-width="1.0" />
<text x="466.2" y="105.1" font-family='"Liberation Serif", serif' font-size="10" text-anchor="middle" font-weight="normal" fill="#222222" stroke="#222222" stroke-width="0.2" >450</text>
<line x1="486.3" y1="95.2" x2="486.3" y2="92.2" stroke="#333333" stroke-width="1.0" />
<text x="486.3" y="105.1" font-family='"Liberation Serif", serif' font-size="10" text-anchor="middle" font-weight="normal" fill="#222222" stroke="#222222" stroke-width="0.2" >480</text>
<line x1="506.4" y1="95.2" x2="506.4" y2="92.2" stroke="#333333" stroke-width="1.0" />
<text x="506.4" y="105.1" font-family='"Liberation Serif", serif' font-size="10" text-anchor="middle" font-weight="normal" fill="#222222" stroke="#222222" stroke-width="0.2" >510</text>
<line x1="415.95" y1="95.2" x2="415.95" y2="93.2" stroke="#333333" stroke-width="1.0" />
<line x1="436.05" y1="95.2" x2="436.05" y2="93.2" stroke="#333333" stroke-width="1.0" />
<line x1="456.15" y1="95.2" x2="456.15" y2="93.2" stroke="#333333" stroke-width="1.0" />
<line x1="476.25" y1="95.2" x2="476.25" y2="93.2" stroke="#333333" stroke-width="1.0" />
<line x1="496.35" y1="95.2" x2="496.35" y2="93.2" stroke="#333333" stroke-width="1.0" />
<line x1="412.7" y1="93" x2="415.7" y2="93" stroke="#333333" stroke-width="1.0" />
<text x="410.4" y="97.2" font-family='"Liberation Serif", serif' font-size="9.7" text-anchor="end" font-weight="normal" fill="#222222" stroke="#222222" stroke-width="0.2" >0.39</text>
<line x1="412.7" y1="77.9" x2="415.7" y2="77.9" stroke="#333333" stroke-width="1.0" />
<text x="410.4" y="82.1" font-family='"Liberation Serif", serif' font-size="9.7" text-anchor="end" font-weight="normal" fill="#222222" stroke="#222222" stroke-width="0.2" >0.40</text>
<line x1="412.7" y1="62.8" x2="415.7" y2="62.8" stroke="#333333" stroke-width="1.0" />
<text x="410.4" y="67" font-family='"Liberation Serif", serif' font-size="9.7" text-anchor="end" font-weight="normal" fill="#222222" stroke="#222222" stroke-width="0.2" >0.41</text>
<line x1="412.7" y1="47.7" x2="415.7" y2="47.7" stroke="#333333" stroke-width="1.0" />
<text x="410.4" y="51.9" font-family='"Liberation Serif", serif' font-size="9.7" text-anchor="end" font-weight="normal" fill="#222222" stroke="#222222" stroke-width="0.2" >0.42</text>
<line x1="412.7" y1="32.6" x2="415.7" y2="32.6" stroke="#333333" stroke-width="1.0" />
<text x="410.4" y="36.8" font-family='"Liberation Serif", serif' font-size="9.7" text-anchor="end" font-weight="normal" fill="#222222" stroke="#222222" stroke-width="0.2" >0.43</text>
<line x1="412.7" y1="17.5" x2="415.7" y2="17.5" stroke="#333333" stroke-width="1.0" />
<text x="410.4" y="21.7" font-family='"Liberation Serif", serif' font-size="9.7" text-anchor="end" font-weight="normal" fill="#222222" stroke="#222222" stroke-width="0.2" >0.44</text>
<line x1="412.7" y1="85.45" x2="414.7" y2="85.45" stroke="#333333" stroke-width="1.0" />
<line x1="412.7" y1="70.35" x2="414.7" y2="70.35" stroke="#333333" stroke-width="1.0" />
<line x1="412.7" y1="55.25" x2="414.7" y2="55.25" stroke="#333333" stroke-width="1.0" />
<line x1="412.7" y1="40.15" x2="414.7" y2="40.15" stroke="#333333" stroke-width="1.0" />
<line x1="412.7" y1="25.05" x2="414.7" y2="25.05" stroke="#333333" stroke-width="1.0" />
<text x="418.5" y="53.2" font-family='"Liberation Sans", sans-serif' font-size="8.2" text-anchor="start" font-weight="normal" fill="#333333" stroke="#333333" stroke-width="0.2" >0.2 μmol L<tspan dy="-3" font-size="7.5">−1</tspan><tspan dy="3"> glucose</tspan></text>
<line x1="440.9" y1="57.2" x2="440.9" y2="78" stroke="#666666" stroke-width="1.2" />
<path d="M438.4,76.5 L440.9,78 L443.4,76.5 L440.9,83.8 Z" fill="#111"/>
<rect x="36.8" y="265.5" width="296.8" height="216.5" fill="none" stroke="#1c1c1c" stroke-width="1.3"/>
<line x1="55.05" y1="482" x2="55.05" y2="477" stroke="#1c1c1c" stroke-width="1.2" />
<text x="55.05" y="498.3" font-family='"Liberation Serif", serif' font-size="12.2" text-anchor="middle" font-weight="normal" fill="#1a1a1a" stroke="#1a1a1a" stroke-width="0.2" >0.0</text>
<line x1="82.91" y1="482" x2="82.91" y2="477" stroke="#1c1c1c" stroke-width="1.2" />
<text x="82.91" y="498.3" font-family='"Liberation Serif", serif' font-size="12.2" text-anchor="middle" font-weight="normal" fill="#1a1a1a" stroke="#1a1a1a" stroke-width="0.2" >0.5</text>
<line x1="110.76" y1="482" x2="110.76" y2="477" stroke="#1c1c1c" stroke-width="1.2" />
<text x="110.76" y="498.3" font-family='"Liberation Serif", serif' font-size="12.2" text-anchor="middle" font-weight="normal" fill="#1a1a1a" stroke="#1a1a1a" stroke-width="0.2" >1.0</text>
<line x1="138.62" y1="482" x2="138.62" y2="477" stroke="#1c1c1c" stroke-width="1.2" />
<text x="138.62" y="498.3" font-family='"Liberation Serif", serif' font-size="12.2" text-anchor="middle" font-weight="normal" fill="#1a1a1a" stroke="#1a1a1a" stroke-width="0.2" >1.5</text>
<line x1="166.47" y1="482" x2="166.47" y2="477" stroke="#1c1c1c" stroke-width="1.2" />
<text x="166.47" y="498.3" font-family='"Liberation Serif", serif' font-size="12.2" text-anchor="middle" font-weight="normal" fill="#1a1a1a" stroke="#1a1a1a" stroke-width="0.2" >2.0</text>
<line x1="194.32" y1="482" x2="194.32" y2="477" stroke="#1c1c1c" stroke-width="1.2" />
<text x="194.32" y="498.3" font-family='"Liberation Serif", serif' font-size="12.2" text-anchor="middle" font-weight="normal" fill="#1a1a1a" stroke="#1a1a1a" stroke-width="0.2" >2.5</text>
<line x1="222.18" y1="482" x2="222.18" y2="477" stroke="#1c1c1c" stroke-width="1.2" />
<text x="222.18" y="498.3" font-family='"Liberation Serif", serif' font-size="12.2" text-anchor="middle" font-weight="normal" fill="#1a1a1a" stroke="#1a1a1a" stroke-width="0.2" >3.0</text>
<line x1="250.04" y1="482" x2="250.04" y2="477" stroke="#1c1c1c" stroke-width="1.2" />
<text x="250.04" y="498.3" font-family='"Liberation Serif", serif' font-size="12.2" text-anchor="middle" font-weight="normal" fill="#1a1a1a" stroke="#1a1a1a" stroke-width="0.2" >3.5</text>
<line x1="277.89" y1="482" x2="277.89" y2="477" stroke="#1c1c1c" stroke-width="1.2" />
<text x="277.89" y="498.3" font-family='"Liberation Serif", serif' font-size="12.2" text-anchor="middle" font-weight="normal" fill="#1a1a1a" stroke="#1a1a1a" stroke-width="0.2" >4.0</text>
<line x1="305.75" y1="482" x2="305.75" y2="477" stroke="#1c1c1c" stroke-width="1.2" />
<text x="305.75" y="498.3" font-family='"Liberation Serif", serif' font-size="12.2" text-anchor="middle" font-weight="normal" fill="#1a1a1a" stroke="#1a1a1a" stroke-width="0.2" >4.5</text>
<line x1="333.6" y1="482" x2="333.6" y2="477" stroke="#1c1c1c" stroke-width="1.2" />
<text x="333.6" y="498.3" font-family='"Liberation Serif", serif' font-size="12.2" text-anchor="middle" font-weight="normal" fill="#1a1a1a" stroke="#1a1a1a" stroke-width="0.2" >5.0</text>
<line x1="41.12" y1="482" x2="41.12" y2="478.6" stroke="#1c1c1c" stroke-width="1.1" />
<line x1="68.98" y1="482" x2="68.98" y2="478.6" stroke="#1c1c1c" stroke-width="1.1" />
<line x1="96.83" y1="482" x2="96.83" y2="478.6" stroke="#1c1c1c" stroke-width="1.1" />
<line x1="124.69" y1="482" x2="124.69" y2="478.6" stroke="#1c1c1c" stroke-width="1.1" />
<line x1="152.54" y1="482" x2="152.54" y2="478.6" stroke="#1c1c1c" stroke-width="1.1" />
<line x1="180.4" y1="482" x2="180.4" y2="478.6" stroke="#1c1c1c" stroke-width="1.1" />
<line x1="208.25" y1="482" x2="208.25" y2="478.6" stroke="#1c1c1c" stroke-width="1.1" />
<line x1="236.11" y1="482" x2="236.11" y2="478.6" stroke="#1c1c1c" stroke-width="1.1" />
<line x1="263.96" y1="482" x2="263.96" y2="478.6" stroke="#1c1c1c" stroke-width="1.1" />
<line x1="291.82" y1="482" x2="291.82" y2="478.6" stroke="#1c1c1c" stroke-width="1.1" />
<line x1="319.67" y1="482" x2="319.67" y2="478.6" stroke="#1c1c1c" stroke-width="1.1" />
<line x1="36.8" y1="469.5" x2="41.1" y2="469.5" stroke="#1c1c1c" stroke-width="1.2" />
<text x="34" y="474" font-family='"Liberation Serif", serif' font-size="12.7" text-anchor="end" font-weight="normal" fill="#1a1a1a" stroke="#1a1a1a" stroke-width="0.2" >0</text>
<line x1="36.8" y1="442.4" x2="41.1" y2="442.4" stroke="#1c1c1c" stroke-width="1.2" />
<text x="34" y="446.9" font-family='"Liberation Serif", serif' font-size="12.7" text-anchor="end" font-weight="normal" fill="#1a1a1a" stroke="#1a1a1a" stroke-width="0.2" >10</text>
<line x1="36.8" y1="415.3" x2="41.1" y2="415.3" stroke="#1c1c1c" stroke-width="1.2" />
<text x="34" y="419.8" font-family='"Liberation Serif", serif' font-size="12.7" text-anchor="end" font-weight="normal" fill="#1a1a1a" stroke="#1a1a1a" stroke-width="0.2" >20</text>
<line x1="36.8" y1="388.2" x2="41.1" y2="388.2" stroke="#1c1c1c" stroke-width="1.2" />
<text x="34" y="392.7" font-family='"Liberation Serif", serif' font-size="12.7" text-anchor="end" font-weight="normal" fill="#1a1a1a" stroke="#1a1a1a" stroke-width="0.2" >30</text>
<line x1="36.8" y1="361.1" x2="41.1" y2="361.1" stroke="#1c1c1c" stroke-width="1.2" />
<text x="34" y="365.6" font-family='"Liberation Serif", serif' font-size="12.7" text-anchor="end" font-weight="normal" fill="#1a1a1a" stroke="#1a1a1a" stroke-width="0.2" >40</text>
<line x1="36.8" y1="334" x2="41.1" y2="334" stroke="#1c1c1c" stroke-width="1.2" />
<text x="34" y="338.5" font-family='"Liberation Serif", serif' font-size="12.7" text-anchor="end" font-weight="normal" fill="#1a1a1a" stroke="#1a1a1a" stroke-width="0.2" >50</text>
<line x1="36.8" y1="306.9" x2="41.1" y2="306.9" stroke="#1c1c1c" stroke-width="1.2" />
<text x="34" y="311.4" font-family='"Liberation Serif", serif' font-size="12.7" text-anchor="end" font-weight="normal" fill="#1a1a1a" stroke="#1a1a1a" stroke-width="0.2" >60</text>
<line x1="36.8" y1="279.8" x2="41.1" y2="279.8" stroke="#1c1c1c" stroke-width="1.2" />
<text x="34" y="284.3" font-family='"Liberation Serif", serif' font-size="12.7" text-anchor="end" font-weight="normal" fill="#1a1a1a" stroke="#1a1a1a" stroke-width="0.2" >70</text>
<line x1="36.8" y1="455.95" x2="39.5" y2="455.95" stroke="#1c1c1c" stroke-width="1.1" />
<line x1="36.8" y1="428.85" x2="39.5" y2="428.85" stroke="#1c1c1c" stroke-width="1.1" />
<line x1="36.8" y1="401.75" x2="39.5" y2="401.75" stroke="#1c1c1c" stroke-width="1.1" />
<line x1="36.8" y1="374.65" x2="39.5" y2="374.65" stroke="#1c1c1c" stroke-width="1.1" />
<line x1="36.8" y1="347.55" x2="39.5" y2="347.55" stroke="#1c1c1c" stroke-width="1.1" />
<line x1="36.8" y1="320.45" x2="39.5" y2="320.45" stroke="#1c1c1c" stroke-width="1.1" />
<line x1="36.8" y1="293.35" x2="39.5" y2="293.35" stroke="#1c1c1c" stroke-width="1.1" />
<line x1="36.8" y1="266.25" x2="39.5" y2="266.25" stroke="#1c1c1c" stroke-width="1.1" />
<text x="185" y="512" font-family='"Liberation Serif", serif' font-size="13.0" text-anchor="middle" font-weight="normal" fill="#1a1a1a" stroke="#1a1a1a" stroke-width="0.2" >Concentration of glucose (mmol L<tspan dy="-4.6" font-size="9.2">−1</tspan><tspan dy="4.6">)</tspan></text>
<text transform="translate(16.5,374.8) rotate(-90)" font-family='"Liberation Serif", serif' font-size="13.0" text-anchor="middle" fill="#1a1a1a" stroke="#1a1a1a" stroke-width="0.2">Current density (mA cm<tspan dy="-4.6" font-size="9">−2</tspan><tspan dy="4.6">)</tspan></text>
<text x="45.1" y="456.1" font-family='"Liberation Serif", serif' font-size="15.2" text-anchor="start" font-weight="bold" fill="#1a1a1a" stroke="#1a1a1a" stroke-width="0.2" >(c)</text>
<line x1="63.96" y1="459.52" x2="207.14" y2="340.28" stroke="#e0281c" stroke-width="1.8" />
<rect x="53.2" y="465.3" width="4.6" height="4.6" fill="#111"/>
<rect x="54.9" y="463.9" width="4.6" height="4.6" fill="#111"/>
<rect x="56.7" y="462.3" width="4.6" height="4.6" fill="#111"/>
<rect x="58.5" y="460.9" width="4.6" height="4.6" fill="#111"/>
<rect x="60.3" y="459.5" width="4.6" height="4.6" fill="#111"/>
<line x1="73.3" y1="450.3" x2="73.3" y2="452.7" stroke="#111" stroke-width="1.0" />
<line x1="70.9" y1="450.3" x2="75.7" y2="450.3" stroke="#111" stroke-width="1.0" />
<line x1="70.9" y1="452.7" x2="75.7" y2="452.7" stroke="#111" stroke-width="1.0" />
<rect x="71" y="449.2" width="4.6" height="4.6" fill="#111"/>
<line x1="84.9" y1="438.9" x2="84.9" y2="442.5" stroke="#111" stroke-width="1.0" />
<line x1="82.5" y1="438.9" x2="87.3" y2="438.9" stroke="#111" stroke-width="1.0" />
<line x1="82.5" y1="442.5" x2="87.3" y2="442.5" stroke="#111" stroke-width="1.0" />
<rect x="82.6" y="438.4" width="4.6" height="4.6" fill="#111"/>
<line x1="95.3" y1="428.6" x2="95.3" y2="431.8" stroke="#111" stroke-width="1.0" />
<line x1="92.9" y1="428.6" x2="97.7" y2="428.6" stroke="#111" stroke-width="1.0" />
<line x1="92.9" y1="431.8" x2="97.7" y2="431.8" stroke="#111" stroke-width="1.0" />
<rect x="93" y="427.9" width="4.6" height="4.6" fill="#111"/>
<line x1="118" y1="407.6" x2="118" y2="415.6" stroke="#111" stroke-width="1.0" />
<line x1="115.6" y1="407.6" x2="120.4" y2="407.6" stroke="#111" stroke-width="1.0" />
<line x1="115.6" y1="415.6" x2="120.4" y2="415.6" stroke="#111" stroke-width="1.0" />
<rect x="115.7" y="409.3" width="4.6" height="4.6" fill="#111"/>
<line x1="139.9" y1="388.8" x2="139.9" y2="396.8" stroke="#111" stroke-width="1.0" />
<line x1="137.5" y1="388.8" x2="142.3" y2="388.8" stroke="#111" stroke-width="1.0" />
<line x1="137.5" y1="396.8" x2="142.3" y2="396.8" stroke="#111" stroke-width="1.0" />
<rect x="137.6" y="390.5" width="4.6" height="4.6" fill="#111"/>
<line x1="162.3" y1="368.9" x2="162.3" y2="379.9" stroke="#111" stroke-width="1.0" />
<line x1="159.9" y1="368.9" x2="164.7" y2="368.9" stroke="#111" stroke-width="1.0" />
<line x1="159.9" y1="379.9" x2="164.7" y2="379.9" stroke="#111" stroke-width="1.0" />
<rect x="160" y="372.1" width="4.6" height="4.6" fill="#111"/>
<line x1="207" y1="340.2" x2="207" y2="355" stroke="#111" stroke-width="1.0" />
<line x1="204.6" y1="340.2" x2="209.4" y2="340.2" stroke="#111" stroke-width="1.0" />
<line x1="204.6" y1="355" x2="209.4" y2="355" stroke="#111" stroke-width="1.0" />
<rect x="204.7" y="345.3" width="4.6" height="4.6" fill="#111"/>
<line x1="251.4" y1="321.2" x2="251.4" y2="334.8" stroke="#111" stroke-width="1.0" />
<line x1="249" y1="321.2" x2="253.8" y2="321.2" stroke="#111" stroke-width="1.0" />
<line x1="249" y1="334.8" x2="253.8" y2="334.8" stroke="#111" stroke-width="1.0" />
<rect x="249.1" y="325.7" width="4.6" height="4.6" fill="#111"/>
<line x1="295.8" y1="303.6" x2="295.8" y2="319" stroke="#111" stroke-width="1.0" />
<line x1="293.4" y1="303.6" x2="298.2" y2="303.6" stroke="#111" stroke-width="1.0" />
<line x1="293.4" y1="319" x2="298.2" y2="319" stroke="#111" stroke-width="1.0" />
<rect x="293.5" y="309" width="4.6" height="4.6" fill="#111"/>
<text x="63.4" y="311.5" font-family='"Liberation Sans", sans-serif' font-size="12.9" text-anchor="start" font-weight="normal" fill="#1a1a1a" stroke="#1a1a1a" stroke-width="0.2" >y=17.1203x + 0.9424</text>
<text x="63.4" y="328.8" font-family='"Liberation Sans", sans-serif' font-size="12.9" text-anchor="start" font-weight="normal" fill="#1a1a1a" stroke="#1a1a1a" stroke-width="0.2" >R<tspan dy="-4.5" font-size="9">2</tspan><tspan dy="4.5">=0.9944</tspan></text>
<rect x="385.7" y="265.5" width="297.3" height="216.6" fill="none" stroke="#1c1c1c" stroke-width="1.3"/>
<line x1="385.7" y1="482.1" x2="385.7" y2="475.9" stroke="#1c1c1c" stroke-width="1.2" />
<text x="385.7" y="497.8" font-family='"Liberation Serif", serif' font-size="12.2" text-anchor="middle" font-weight="normal" fill="#1a1a1a" stroke="#1a1a1a" stroke-width="0.2" >300</text>
<line x1="439.76" y1="482.1" x2="439.76" y2="475.9" stroke="#1c1c1c" stroke-width="1.2" />
<text x="439.76" y="497.8" font-family='"Liberation Serif", serif' font-size="12.2" text-anchor="middle" font-weight="normal" fill="#1a1a1a" stroke="#1a1a1a" stroke-width="0.2" >400</text>
<line x1="493.82" y1="482.1" x2="493.82" y2="475.9" stroke="#1c1c1c" stroke-width="1.2" />
<text x="493.82" y="497.8" font-family='"Liberation Serif", serif' font-size="12.2" text-anchor="middle" font-weight="normal" fill="#1a1a1a" stroke="#1a1a1a" stroke-width="0.2" >500</text>
<line x1="547.88" y1="482.1" x2="547.88" y2="475.9" stroke="#1c1c1c" stroke-width="1.2" />
<text x="547.88" y="497.8" font-family='"Liberation Serif", serif' font-size="12.2" text-anchor="middle" font-weight="normal" fill="#1a1a1a" stroke="#1a1a1a" stroke-width="0.2" >600</text>
<line x1="601.94" y1="482.1" x2="601.94" y2="475.9" stroke="#1c1c1c" stroke-width="1.2" />
<text x="601.94" y="497.8" font-family='"Liberation Serif", serif' font-size="12.2" text-anchor="middle" font-weight="normal" fill="#1a1a1a" stroke="#1a1a1a" stroke-width="0.2" >700</text>
<line x1="656" y1="482.1" x2="656" y2="475.9" stroke="#1c1c1c" stroke-width="1.2" />
<text x="656" y="497.8" font-family='"Liberation Serif", serif' font-size="12.2" text-anchor="middle" font-weight="normal" fill="#1a1a1a" stroke="#1a1a1a" stroke-width="0.2" >800</text>
<line x1="412.73" y1="482.1" x2="412.73" y2="477.5" stroke="#1c1c1c" stroke-width="1.1" />
<line x1="466.79" y1="482.1" x2="466.79" y2="477.5" stroke="#1c1c1c" stroke-width="1.1" />
<line x1="520.85" y1="482.1" x2="520.85" y2="477.5" stroke="#1c1c1c" stroke-width="1.1" />
<line x1="574.91" y1="482.1" x2="574.91" y2="477.5" stroke="#1c1c1c" stroke-width="1.1" />
<line x1="628.97" y1="482.1" x2="628.97" y2="477.5" stroke="#1c1c1c" stroke-width="1.1" />
<line x1="683.03" y1="482.1" x2="683.03" y2="477.5" stroke="#1c1c1c" stroke-width="1.1" />
<line x1="385.7" y1="482.1" x2="390" y2="482.1" stroke="#1c1c1c" stroke-width="1.2" />
<text x="383.3" y="486.6" font-family='"Liberation Serif", serif' font-size="12.7" text-anchor="end" font-weight="normal" fill="#1a1a1a" stroke="#1a1a1a" stroke-width="0.2" >0</text>
<line x1="385.7" y1="446" x2="390" y2="446" stroke="#1c1c1c" stroke-width="1.2" />
<text x="383.3" y="450.5" font-family='"Liberation Serif", serif' font-size="12.7" text-anchor="end" font-weight="normal" fill="#1a1a1a" stroke="#1a1a1a" stroke-width="0.2" >1</text>
<line x1="385.7" y1="409.9" x2="390" y2="409.9" stroke="#1c1c1c" stroke-width="1.2" />
<text x="383.3" y="414.4" font-family='"Liberation Serif", serif' font-size="12.7" text-anchor="end" font-weight="normal" fill="#1a1a1a" stroke="#1a1a1a" stroke-width="0.2" >2</text>
<line x1="385.7" y1="373.8" x2="390" y2="373.8" stroke="#1c1c1c" stroke-width="1.2" />
<text x="383.3" y="378.3" font-family='"Liberation Serif", serif' font-size="12.7" text-anchor="end" font-weight="normal" fill="#1a1a1a" stroke="#1a1a1a" stroke-width="0.2" >3</text>
<line x1="385.7" y1="337.7" x2="390" y2="337.7" stroke="#1c1c1c" stroke-width="1.2" />
<text x="383.3" y="342.2" font-family='"Liberation Serif", serif' font-size="12.7" text-anchor="end" font-weight="normal" fill="#1a1a1a" stroke="#1a1a1a" stroke-width="0.2" >4</text>
<line x1="385.7" y1="301.6" x2="390" y2="301.6" stroke="#1c1c1c" stroke-width="1.2" />
<text x="383.3" y="306.1" font-family='"Liberation Serif", serif' font-size="12.7" text-anchor="end" font-weight="normal" fill="#1a1a1a" stroke="#1a1a1a" stroke-width="0.2" >5</text>
<line x1="385.7" y1="265.5" x2="390" y2="265.5" stroke="#1c1c1c" stroke-width="1.2" />
<text x="383.3" y="270" font-family='"Liberation Serif", serif' font-size="12.7" text-anchor="end" font-weight="normal" fill="#1a1a1a" stroke="#1a1a1a" stroke-width="0.2" >6</text>
<line x1="385.7" y1="464.05" x2="388.4" y2="464.05" stroke="#1c1c1c" stroke-width="1.1" />
<line x1="385.7" y1="427.95" x2="388.4" y2="427.95" stroke="#1c1c1c" stroke-width="1.1" />
<line x1="385.7" y1="391.85" x2="388.4" y2="391.85" stroke="#1c1c1c" stroke-width="1.1" />
<line x1="385.7" y1="355.75" x2="388.4" y2="355.75" stroke="#1c1c1c" stroke-width="1.1" />
<line x1="385.7" y1="319.65" x2="388.4" y2="319.65" stroke="#1c1c1c" stroke-width="1.1" />
<line x1="385.7" y1="283.55" x2="388.4" y2="283.55" stroke="#1c1c1c" stroke-width="1.1" />
<text x="550.7" y="512.4" font-family='"Liberation Serif", serif' font-size="12.5" text-anchor="middle" font-weight="normal" fill="#1a1a1a" stroke="#1a1a1a" stroke-width="0.2" >Time (s)</text>
<text transform="translate(370.5,373.8) rotate(-90)" font-family='"Liberation Serif", serif' font-size="13.0" text-anchor="middle" fill="#1a1a1a" stroke="#1a1a1a" stroke-width="0.2">Current density (mA cm<tspan dy="-4.6" font-size="9">−2</tspan><tspan dy="4.6">)</tspan></text>
<text x="393.3" y="456.2" font-family='"Liberation Serif", serif' font-size="15.2" text-anchor="start" font-weight="bold" fill="#1a1a1a" stroke="#1a1a1a" stroke-width="0.2" >(d)</text>
<text x="389.8" y="373" font-family='"Liberation Sans", sans-serif' font-size="9.7" text-anchor="start" font-weight="normal" fill="#222222" stroke="#222222" stroke-width="0.2" >0.1 mM Glucose</text>
<text x="440.1" y="357" font-family='"Liberation Sans", sans-serif' font-size="9.7" text-anchor="start" font-weight="normal" fill="#222222" stroke="#222222" stroke-width="0.2" >5 μM UA</text>
<text x="462.9" y="342" font-family='"Liberation Sans", sans-serif' font-size="9.7" text-anchor="start" font-weight="normal" fill="#222222" stroke="#222222" stroke-width="0.2" >5 μM AA</text>
<text x="486.1" y="323.8" font-family='"Liberation Sans", sans-serif' font-size="9.7" text-anchor="start" font-weight="normal" fill="#222222" stroke="#222222" stroke-width="0.2" >5 μM DA</text>
<text x="476.1" y="301.8" font-family='"Liberation Sans", sans-serif' font-size="9.7" text-anchor="start" font-weight="normal" fill="#222222" stroke="#222222" stroke-width="0.2" >5 μM 4-Acetamidophenol</text>
<text x="514.2" y="280.4" font-family='"Liberation Sans", sans-serif' font-size="9.7" text-anchor="start" font-weight="normal" fill="#222222" stroke="#222222" stroke-width="0.2" >5 μM Fructose</text>
<text x="548.2" y="315" font-family='"Liberation Sans", sans-serif' font-size="9.7" text-anchor="start" font-weight="normal" fill="#222222" stroke="#222222" stroke-width="0.2" >5 μM Sucrose</text>
<text x="567.3" y="331.2" font-family='"Liberation Sans", sans-serif' font-size="9.7" text-anchor="start" font-weight="normal" fill="#222222" stroke="#222222" stroke-width="0.2" >5 μM Folic acid</text>
<text x="591.4" y="347.2" font-family='"Liberation Sans", sans-serif' font-size="9.7" text-anchor="start" font-weight="normal" fill="#222222" stroke="#222222" stroke-width="0.2" >5 μM L-Cysteine</text>
<text x="602.3" y="292.4" font-family='"Liberation Sans", sans-serif' font-size="9.7" text-anchor="start" font-weight="normal" fill="#222222" stroke="#222222" stroke-width="0.2" >0.1 mM Glucose</text>
<line x1="436.7" y1="379.5" x2="436.7" y2="460.6" stroke="#e8413c" stroke-width="1.2" />
<path d="M433.8,459.3 L436.7,460.6 L439.6,459.3 L436.7,465.5 Z" fill="#e8413c"/>
<line x1="461.8" y1="363.7" x2="461.8" y2="381.6" stroke="#e8413c" stroke-width="1.2" />
<path d="M458.9,380.3 L461.8,381.6 L464.7,380.3 L461.8,386.5 Z" fill="#e8413c"/>
<line x1="482.5" y1="350" x2="482.5" y2="381.6" stroke="#e8413c" stroke-width="1.2" />
<path d="M479.6,380.3 L482.5,381.6 L485.4,380.3 L482.5,386.5 Z" fill="#e8413c"/>
<line x1="504.3" y1="327" x2="504.3" y2="381.4" stroke="#e8413c" stroke-width="1.2" />
<path d="M501.4,380.1 L504.3,381.4 L507.2,380.1 L504.3,386.3 Z" fill="#e8413c"/>
<line x1="526.6" y1="304.5" x2="526.6" y2="378.5" stroke="#e8413c" stroke-width="1.2" />
<path d="M523.7,377.2 L526.6,378.5 L529.5,377.2 L526.6,383.4 Z" fill="#e8413c"/>
<line x1="545.3" y1="283.2" x2="545.3" y2="379.2" stroke="#e8413c" stroke-width="1.2" />
<path d="M542.4,377.9 L545.3,379.2 L548.2,377.9 L545.3,384.1 Z" fill="#e8413c"/>
<line x1="565.3" y1="317.9" x2="565.3" y2="378.1" stroke="#e8413c" stroke-width="1.2" />
<path d="M562.4,376.8 L565.3,378.1 L568.2,376.8 L565.3,383 Z" fill="#e8413c"/>
<line x1="587.6" y1="334.7" x2="587.6" y2="380.3" stroke="#e8413c" stroke-width="1.2" />
<path d="M584.7,379 L587.6,380.3 L590.5,379 L587.6,385.2 Z" fill="#e8413c"/>
<line x1="610.8" y1="351.5" x2="610.8" y2="381.4" stroke="#e8413c" stroke-width="1.2" />
<path d="M607.9,380.1 L610.8,381.4 L613.7,380.1 L610.8,386.3 Z" fill="#e8413c"/>
<line x1="633.8" y1="295.5" x2="633.8" y2="380.3" stroke="#e8413c" stroke-width="1.2" />
<path d="M630.9,379 L633.8,380.3 L636.7,379 L633.8,385.2 Z" fill="#e8413c"/>
</svg>
</body></html>
